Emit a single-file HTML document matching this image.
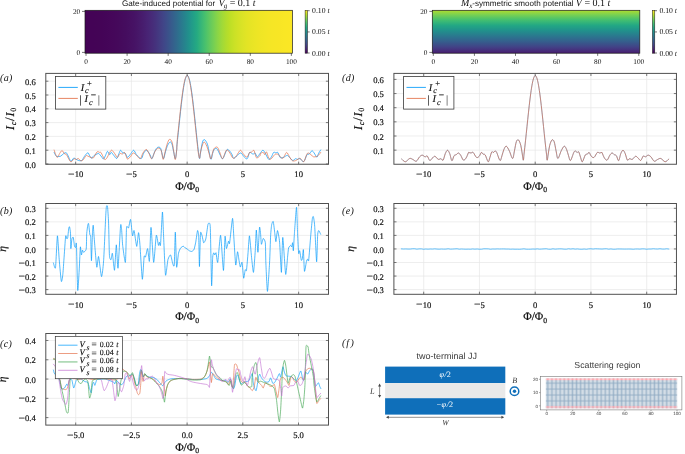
<!DOCTYPE html>
<html><head><meta charset="utf-8"><title>figure</title>
<style>html,body{margin:0;padding:0;background:#fff;}body{width:685px;height:454px;overflow:hidden;font-family:"Liberation Serif",serif;}svg{display:block;will-change:transform;}text{text-rendering:geometricPrecision;}</style>
</head><body>
<svg width="685" height="454" viewBox="0 0 685 454">
<rect width="685" height="454" fill="#fff"/>
<defs>
<linearGradient id="g1" x1="0" y1="0" x2="1" y2="0"><stop offset="0.000" stop-color="#440255"/><stop offset="0.020" stop-color="#440356"/><stop offset="0.040" stop-color="#440356"/><stop offset="0.060" stop-color="#440456"/><stop offset="0.080" stop-color="#440457"/><stop offset="0.100" stop-color="#440558"/><stop offset="0.120" stop-color="#450659"/><stop offset="0.140" stop-color="#45075a"/><stop offset="0.160" stop-color="#45095b"/><stop offset="0.180" stop-color="#450b5d"/><stop offset="0.200" stop-color="#450d5f"/><stop offset="0.220" stop-color="#461062"/><stop offset="0.240" stop-color="#461365"/><stop offset="0.260" stop-color="#471869"/><stop offset="0.280" stop-color="#471d6e"/><stop offset="0.300" stop-color="#482374"/><stop offset="0.320" stop-color="#472a78"/><stop offset="0.340" stop-color="#45327d"/><stop offset="0.360" stop-color="#433c82"/><stop offset="0.380" stop-color="#404688"/><stop offset="0.400" stop-color="#3b518a"/><stop offset="0.420" stop-color="#365d8c"/><stop offset="0.440" stop-color="#31698d"/><stop offset="0.460" stop-color="#2b768e"/><stop offset="0.480" stop-color="#26838d"/><stop offset="0.500" stop-color="#21918c"/><stop offset="0.520" stop-color="#229e88"/><stop offset="0.540" stop-color="#25aa82"/><stop offset="0.560" stop-color="#37b678"/><stop offset="0.580" stop-color="#49c16d"/><stop offset="0.600" stop-color="#60c860"/><stop offset="0.620" stop-color="#75cf54"/><stop offset="0.640" stop-color="#8bd546"/><stop offset="0.660" stop-color="#9fd939"/><stop offset="0.680" stop-color="#b0dc2e"/><stop offset="0.700" stop-color="#bedf26"/><stop offset="0.720" stop-color="#cae126"/><stop offset="0.740" stop-color="#d3e226"/><stop offset="0.760" stop-color="#dbe326"/><stop offset="0.780" stop-color="#e2e425"/><stop offset="0.800" stop-color="#e7e425"/><stop offset="0.820" stop-color="#ebe525"/><stop offset="0.840" stop-color="#efe525"/><stop offset="0.860" stop-color="#f1e625"/><stop offset="0.880" stop-color="#f4e625"/><stop offset="0.900" stop-color="#f6e625"/><stop offset="0.920" stop-color="#f7e625"/><stop offset="0.940" stop-color="#f8e625"/><stop offset="0.960" stop-color="#f9e725"/><stop offset="0.980" stop-color="#fae725"/><stop offset="1.000" stop-color="#fbe725"/></linearGradient>
<linearGradient id="g2" x1="0" y1="1" x2="0" y2="0"><stop offset="0.000" stop-color="#471d6e"/><stop offset="0.020" stop-color="#482374"/><stop offset="0.040" stop-color="#472877"/><stop offset="0.060" stop-color="#462d7a"/><stop offset="0.080" stop-color="#45327d"/><stop offset="0.100" stop-color="#443780"/><stop offset="0.120" stop-color="#433c83"/><stop offset="0.140" stop-color="#424186"/><stop offset="0.160" stop-color="#404687"/><stop offset="0.180" stop-color="#3e4a88"/><stop offset="0.200" stop-color="#3c4f89"/><stop offset="0.220" stop-color="#3a538a"/><stop offset="0.240" stop-color="#38578b"/><stop offset="0.260" stop-color="#365c8c"/><stop offset="0.280" stop-color="#35608d"/><stop offset="0.300" stop-color="#33648d"/><stop offset="0.320" stop-color="#31688d"/><stop offset="0.340" stop-color="#2f6c8e"/><stop offset="0.360" stop-color="#2e708e"/><stop offset="0.380" stop-color="#2c748e"/><stop offset="0.400" stop-color="#2a788e"/><stop offset="0.420" stop-color="#297c8e"/><stop offset="0.440" stop-color="#27808d"/><stop offset="0.460" stop-color="#26848d"/><stop offset="0.480" stop-color="#24888d"/><stop offset="0.500" stop-color="#238c8c"/><stop offset="0.520" stop-color="#21908c"/><stop offset="0.540" stop-color="#21948b"/><stop offset="0.560" stop-color="#21978a"/><stop offset="0.580" stop-color="#219b88"/><stop offset="0.600" stop-color="#229f87"/><stop offset="0.620" stop-color="#22a286"/><stop offset="0.640" stop-color="#22a685"/><stop offset="0.660" stop-color="#25aa82"/><stop offset="0.680" stop-color="#2aae7f"/><stop offset="0.700" stop-color="#30b17c"/><stop offset="0.720" stop-color="#35b579"/><stop offset="0.740" stop-color="#3ab976"/><stop offset="0.760" stop-color="#40bc72"/><stop offset="0.780" stop-color="#46c06f"/><stop offset="0.800" stop-color="#4fc36a"/><stop offset="0.820" stop-color="#57c565"/><stop offset="0.840" stop-color="#60c860"/><stop offset="0.860" stop-color="#69cb5b"/><stop offset="0.880" stop-color="#71ce56"/><stop offset="0.900" stop-color="#7ad151"/><stop offset="0.920" stop-color="#85d34a"/><stop offset="0.940" stop-color="#8fd543"/><stop offset="0.960" stop-color="#9ad83c"/><stop offset="0.980" stop-color="#a5da35"/><stop offset="1.000" stop-color="#b0dc2f"/></linearGradient>
<linearGradient id="cb" x1="0" y1="1" x2="0" y2="0"><stop offset="0.000" stop-color="#440154"/><stop offset="0.050" stop-color="#461264"/><stop offset="0.100" stop-color="#482475"/><stop offset="0.150" stop-color="#44347e"/><stop offset="0.200" stop-color="#414487"/><stop offset="0.250" stop-color="#3b528a"/><stop offset="0.300" stop-color="#355f8d"/><stop offset="0.350" stop-color="#306c8e"/><stop offset="0.400" stop-color="#2a788e"/><stop offset="0.450" stop-color="#26848d"/><stop offset="0.500" stop-color="#21918c"/><stop offset="0.550" stop-color="#229c88"/><stop offset="0.600" stop-color="#22a884"/><stop offset="0.650" stop-color="#33b47a"/><stop offset="0.700" stop-color="#44bf70"/><stop offset="0.750" stop-color="#5fc860"/><stop offset="0.800" stop-color="#7ad151"/><stop offset="0.850" stop-color="#9bd83c"/><stop offset="0.900" stop-color="#bddf26"/><stop offset="0.950" stop-color="#dde326"/><stop offset="1.000" stop-color="#fde725"/></linearGradient>
</defs>
<rect x="85.0" y="10.3" width="207.39999999999998" height="42.900000000000006" fill="url(#g1)" stroke="#1a1a1a" stroke-width="0.7"/>
<line x1="86.03" y1="53.2" x2="86.03" y2="55.900000000000006" stroke="#1a1a1a" stroke-width="0.6"/>
<text x="86.03" y="63.800000000000004" font-family="Liberation Serif, serif" font-size="7.3" text-anchor="middle" fill="#111">0</text>
<line x1="127.10" y1="53.2" x2="127.10" y2="55.900000000000006" stroke="#1a1a1a" stroke-width="0.6"/>
<text x="127.10" y="63.800000000000004" font-family="Liberation Serif, serif" font-size="7.3" text-anchor="middle" fill="#111">20</text>
<line x1="168.17" y1="53.2" x2="168.17" y2="55.900000000000006" stroke="#1a1a1a" stroke-width="0.6"/>
<text x="168.17" y="63.800000000000004" font-family="Liberation Serif, serif" font-size="7.3" text-anchor="middle" fill="#111">40</text>
<line x1="209.23" y1="53.2" x2="209.23" y2="55.900000000000006" stroke="#1a1a1a" stroke-width="0.6"/>
<text x="209.23" y="63.800000000000004" font-family="Liberation Serif, serif" font-size="7.3" text-anchor="middle" fill="#111">60</text>
<line x1="250.30" y1="53.2" x2="250.30" y2="55.900000000000006" stroke="#1a1a1a" stroke-width="0.6"/>
<text x="250.30" y="63.800000000000004" font-family="Liberation Serif, serif" font-size="7.3" text-anchor="middle" fill="#111">80</text>
<line x1="291.37" y1="53.2" x2="291.37" y2="55.900000000000006" stroke="#1a1a1a" stroke-width="0.6"/>
<text x="291.37" y="63.800000000000004" font-family="Liberation Serif, serif" font-size="7.3" text-anchor="middle" fill="#111">100</text>
<line x1="85.0" y1="11.4" x2="82.0" y2="11.4" stroke="#1a1a1a" stroke-width="0.6"/>
<text x="80.2" y="14.0" font-family="Liberation Serif, serif" font-size="7.3" text-anchor="end" fill="#111">20</text>
<line x1="85.0" y1="52.400000000000006" x2="82.0" y2="52.400000000000006" stroke="#1a1a1a" stroke-width="0.6"/>
<text x="80.2" y="55.00000000000001" font-family="Liberation Serif, serif" font-size="7.3" text-anchor="end" fill="#111">0</text>
<text x="188.8" y="6.3" font-family="Liberation Sans, sans-serif" font-size="8.1" text-anchor="middle" fill="#111">Gate-induced potential for <tspan font-family="Liberation Serif" font-style="italic" font-size="10" dx="1">V<tspan font-size="7" dy="1.8" dx="-0.8">g</tspan></tspan><tspan font-family="Liberation Serif" font-size="10" dy="-1.8"> = 0.1 <tspan font-style="italic">t</tspan></tspan></text>
<rect x="305.1" y="10.3" width="2.4" height="42.900000000000006" fill="url(#cb)" stroke="#1a1a1a" stroke-width="0.5"/>
<line x1="307.5" y1="10.700000000000001" x2="309.70000000000005" y2="10.700000000000001" stroke="#1a1a1a" stroke-width="0.6"/>
<text x="312.1" y="13.200000000000001" font-family="Liberation Serif, serif" font-size="7.7" fill="#111">0.10 <tspan font-style="italic">t</tspan></text>
<line x1="307.5" y1="31.95" x2="309.70000000000005" y2="31.95" stroke="#1a1a1a" stroke-width="0.6"/>
<text x="312.1" y="34.45" font-family="Liberation Serif, serif" font-size="7.7" fill="#111">0.05 <tspan font-style="italic">t</tspan></text>
<line x1="307.5" y1="53.0" x2="309.70000000000005" y2="53.0" stroke="#1a1a1a" stroke-width="0.6"/>
<text x="312.1" y="55.5" font-family="Liberation Serif, serif" font-size="7.7" fill="#111">0.00 <tspan font-style="italic">t</tspan></text>
<rect x="432.3" y="10.3" width="207.49999999999994" height="42.900000000000006" fill="url(#g2)" stroke="#1a1a1a" stroke-width="0.7"/>
<line x1="433.33" y1="53.2" x2="433.33" y2="55.900000000000006" stroke="#1a1a1a" stroke-width="0.6"/>
<text x="433.33" y="63.800000000000004" font-family="Liberation Serif, serif" font-size="7.3" text-anchor="middle" fill="#111">0</text>
<line x1="474.42" y1="53.2" x2="474.42" y2="55.900000000000006" stroke="#1a1a1a" stroke-width="0.6"/>
<text x="474.42" y="63.800000000000004" font-family="Liberation Serif, serif" font-size="7.3" text-anchor="middle" fill="#111">20</text>
<line x1="515.51" y1="53.2" x2="515.51" y2="55.900000000000006" stroke="#1a1a1a" stroke-width="0.6"/>
<text x="515.51" y="63.800000000000004" font-family="Liberation Serif, serif" font-size="7.3" text-anchor="middle" fill="#111">40</text>
<line x1="556.59" y1="53.2" x2="556.59" y2="55.900000000000006" stroke="#1a1a1a" stroke-width="0.6"/>
<text x="556.59" y="63.800000000000004" font-family="Liberation Serif, serif" font-size="7.3" text-anchor="middle" fill="#111">60</text>
<line x1="597.68" y1="53.2" x2="597.68" y2="55.900000000000006" stroke="#1a1a1a" stroke-width="0.6"/>
<text x="597.68" y="63.800000000000004" font-family="Liberation Serif, serif" font-size="7.3" text-anchor="middle" fill="#111">80</text>
<line x1="638.77" y1="53.2" x2="638.77" y2="55.900000000000006" stroke="#1a1a1a" stroke-width="0.6"/>
<text x="638.77" y="63.800000000000004" font-family="Liberation Serif, serif" font-size="7.3" text-anchor="middle" fill="#111">100</text>
<line x1="432.3" y1="11.4" x2="429.3" y2="11.4" stroke="#1a1a1a" stroke-width="0.6"/>
<text x="427.5" y="14.0" font-family="Liberation Serif, serif" font-size="7.3" text-anchor="end" fill="#111">20</text>
<line x1="432.3" y1="52.400000000000006" x2="429.3" y2="52.400000000000006" stroke="#1a1a1a" stroke-width="0.6"/>
<text x="427.5" y="55.00000000000001" font-family="Liberation Serif, serif" font-size="7.3" text-anchor="end" fill="#111">0</text>
<text x="535.6" y="6.3" font-family="Liberation Sans, sans-serif" font-size="8.1" text-anchor="middle" fill="#111"><tspan font-family="Liberation Serif" font-style="italic" font-size="10">M<tspan font-size="7" dy="1.8">x</tspan></tspan><tspan dy="-1.8">-symmetric smooth potential </tspan><tspan font-family="Liberation Serif" font-size="10"><tspan font-style="italic">V</tspan> = 0.1 <tspan font-style="italic">t</tspan></tspan></text>
<rect x="652.4" y="10.3" width="2.4" height="42.900000000000006" fill="url(#cb)" stroke="#1a1a1a" stroke-width="0.5"/>
<line x1="654.8" y1="10.700000000000001" x2="657.0" y2="10.700000000000001" stroke="#1a1a1a" stroke-width="0.6"/>
<text x="659.4" y="13.200000000000001" font-family="Liberation Serif, serif" font-size="7.7" fill="#111">0.10 <tspan font-style="italic">t</tspan></text>
<line x1="654.8" y1="31.95" x2="657.0" y2="31.95" stroke="#1a1a1a" stroke-width="0.6"/>
<text x="659.4" y="34.45" font-family="Liberation Serif, serif" font-size="7.7" fill="#111">0.05 <tspan font-style="italic">t</tspan></text>
<line x1="654.8" y1="53.0" x2="657.0" y2="53.0" stroke="#1a1a1a" stroke-width="0.6"/>
<text x="659.4" y="55.5" font-family="Liberation Serif, serif" font-size="7.7" fill="#111">0.00 <tspan font-style="italic">t</tspan></text>
<rect x="45.8" y="73.4" width="282.7" height="90.85" fill="#fff"/>
<line x1="75.65" y1="73.4" x2="75.65" y2="164.25" stroke="#e6e6e6" stroke-width="0.7"/>
<line x1="131.40" y1="73.4" x2="131.40" y2="164.25" stroke="#e6e6e6" stroke-width="0.7"/>
<line x1="187.15" y1="73.4" x2="187.15" y2="164.25" stroke="#e6e6e6" stroke-width="0.7"/>
<line x1="242.90" y1="73.4" x2="242.90" y2="164.25" stroke="#e6e6e6" stroke-width="0.7"/>
<line x1="298.65" y1="73.4" x2="298.65" y2="164.25" stroke="#e6e6e6" stroke-width="0.7"/>
<line x1="45.8" y1="164.00" x2="328.5" y2="164.00" stroke="#e6e6e6" stroke-width="0.7"/>
<line x1="45.8" y1="150.20" x2="328.5" y2="150.20" stroke="#e6e6e6" stroke-width="0.7"/>
<line x1="45.8" y1="136.40" x2="328.5" y2="136.40" stroke="#e6e6e6" stroke-width="0.7"/>
<line x1="45.8" y1="122.60" x2="328.5" y2="122.60" stroke="#e6e6e6" stroke-width="0.7"/>
<line x1="45.8" y1="108.80" x2="328.5" y2="108.80" stroke="#e6e6e6" stroke-width="0.7"/>
<line x1="45.8" y1="95.00" x2="328.5" y2="95.00" stroke="#e6e6e6" stroke-width="0.7"/>
<line x1="45.8" y1="81.20" x2="328.5" y2="81.20" stroke="#e6e6e6" stroke-width="0.7"/>
<path d="M54.16 152.45C54.34 152.81 54.85 154.00 55.26 154.64C55.66 155.27 55.71 156.00 56.57 156.28C57.43 156.55 59.22 156.73 60.40 156.28C61.59 155.82 62.72 154.12 63.69 153.54C64.65 152.96 65.48 152.41 66.20 152.77C66.93 153.14 67.30 154.33 68.07 155.73C68.83 157.14 69.89 160.79 70.80 161.21C71.72 161.63 72.72 158.61 73.54 158.25C74.36 157.88 74.91 158.65 75.73 159.02C76.55 159.38 77.46 160.20 78.47 160.44C79.47 160.68 80.75 161.13 81.75 160.44C82.76 159.75 83.49 157.56 84.49 156.28C85.49 155.00 86.92 152.87 87.78 152.77C88.63 152.68 89.00 154.82 89.64 155.73C90.28 156.64 90.91 158.25 91.61 158.25C92.30 158.25 92.70 156.52 93.80 155.73C94.89 154.95 97.17 153.72 98.18 153.54C99.18 153.36 99.18 154.00 99.82 154.64C100.46 155.27 101.37 156.64 102.01 157.37C102.65 158.10 103.01 159.47 103.65 159.02C104.29 158.56 105.20 155.91 105.84 154.64C106.48 153.36 106.85 151.35 107.48 151.35C108.12 151.35 109.04 154.45 109.67 154.64C110.31 154.82 110.59 152.26 111.32 152.45C112.05 152.63 113.14 154.73 114.05 155.73C114.97 156.73 115.97 158.83 116.79 158.47C117.61 158.10 118.34 154.91 118.98 153.54C119.62 152.17 119.98 150.35 120.62 150.26C121.26 150.16 122.10 152.54 122.81 152.99C123.53 153.45 124.34 152.59 124.93 152.99C125.52 153.40 125.89 154.67 126.35 155.40C126.81 156.13 126.90 157.68 127.66 157.37C128.43 157.06 129.95 154.73 130.95 153.54C131.95 152.35 132.77 150.07 133.69 150.26C134.60 150.44 135.33 153.30 136.42 154.64C137.52 155.97 139.34 157.70 140.26 158.25C141.17 158.80 141.35 158.71 141.90 157.92C142.45 157.14 142.81 154.82 143.54 153.54C144.27 152.26 145.37 150.35 146.28 150.26C147.19 150.16 148.29 151.99 149.02 152.99C149.75 154.00 150.17 155.33 150.66 156.28C151.15 157.23 151.42 159.14 151.97 158.69C152.52 158.23 153.34 155.04 153.94 153.54C154.55 152.04 154.95 150.75 155.59 149.71C156.22 148.67 156.95 147.57 157.78 147.30C158.60 147.03 159.78 146.93 160.51 148.07C161.24 149.20 161.64 152.32 162.15 154.09C162.67 155.86 163.03 159.05 163.58 158.69C164.13 158.32 164.76 154.12 165.44 151.90C166.11 149.67 166.84 146.97 167.63 145.33C168.41 143.69 169.42 142.23 170.15 142.04C170.88 141.86 171.43 142.59 172.01 144.23C172.59 145.88 173.10 149.49 173.65 151.90C174.20 154.31 174.78 159.05 175.29 158.69C175.80 158.32 176.47 151.76 176.72 149.71C176.97 147.66 176.66 148.07 176.80 146.38C176.94 144.69 177.30 141.87 177.55 139.56C177.80 137.26 178.05 134.89 178.30 132.52C178.55 130.16 178.80 127.76 179.05 125.38C179.30 123.00 179.55 120.61 179.80 118.27C180.05 115.92 180.30 113.58 180.55 111.32C180.80 109.05 181.05 106.81 181.30 104.66C181.55 102.52 181.80 100.42 182.05 98.44C182.30 96.45 182.55 94.54 182.80 92.76C183.05 90.98 183.30 89.29 183.55 87.74C183.80 86.20 184.05 84.77 184.30 83.49C184.55 82.22 184.80 81.07 185.05 80.09C185.30 79.11 185.55 78.28 185.80 77.61C186.05 76.95 186.30 76.44 186.55 76.11C186.80 75.77 187.05 75.60 187.30 75.60C187.55 75.60 187.80 75.77 188.05 76.11C188.30 76.44 188.55 76.95 188.80 77.61C189.05 78.28 189.30 79.11 189.55 80.09C189.80 81.07 190.05 82.22 190.30 83.49C190.55 84.77 190.80 86.20 191.05 87.74C191.30 89.29 191.55 90.98 191.80 92.76C192.05 94.54 192.30 96.45 192.55 98.44C192.80 100.42 193.05 102.52 193.30 104.66C193.55 106.81 193.80 109.05 194.05 111.32C194.30 113.58 194.55 115.92 194.80 118.27C195.05 120.61 195.30 123.00 195.55 125.38C195.80 127.76 196.05 130.16 196.30 132.52C196.55 134.89 196.80 137.26 197.05 139.56C197.30 141.87 197.55 144.16 197.80 146.38C198.05 148.59 198.25 150.81 198.55 152.85C198.85 154.89 199.21 158.94 199.60 158.60C199.99 158.26 200.39 153.56 200.88 150.80C201.36 148.04 201.92 143.91 202.52 142.04C203.12 140.18 203.67 139.27 204.49 139.64C205.31 140.00 206.64 142.01 207.45 144.23C208.25 146.46 208.71 150.48 209.31 152.99C209.91 155.51 210.51 159.25 211.06 159.34C211.61 159.44 212.10 155.15 212.59 153.54C213.08 151.94 213.41 150.57 214.02 149.71C214.62 148.85 215.57 148.30 216.21 148.39C216.84 148.49 217.17 149.12 217.85 150.26C218.52 151.39 219.44 153.78 220.26 155.18C221.08 156.59 221.81 159.33 222.78 158.69C223.74 158.05 225.20 152.88 226.06 151.35C226.92 149.82 227.01 149.12 227.92 149.49C228.83 149.85 230.57 152.08 231.53 153.54C232.50 155.00 232.72 157.98 233.72 158.25C234.73 158.52 236.37 156.06 237.56 155.18C238.74 154.31 239.75 152.72 240.84 152.99C241.94 153.27 243.07 155.88 244.13 156.83C245.18 157.77 246.28 159.42 247.19 158.69C248.10 157.96 248.83 153.30 249.60 152.45C250.37 151.59 251.15 153.27 251.79 153.54C252.43 153.81 252.89 154.18 253.43 154.09C253.98 154.00 254.44 152.54 255.08 152.99C255.71 153.45 256.44 156.73 257.27 156.83C258.09 156.92 259.07 154.64 260.00 153.54C260.94 152.45 261.98 150.26 262.88 150.26C263.78 150.26 264.43 152.03 265.40 153.54C266.37 155.06 267.68 158.80 268.69 159.34C269.69 159.89 270.60 157.98 271.42 156.83C272.25 155.68 272.88 153.12 273.61 152.45C274.34 151.77 275.11 152.77 275.80 152.77C276.50 152.77 277.19 151.95 277.77 152.45C278.36 152.94 278.81 154.82 279.31 155.73C279.80 156.64 280.04 157.65 280.73 157.92C281.42 158.19 282.37 157.79 283.47 157.37C284.56 156.95 286.30 155.40 287.30 155.40C288.30 155.40 288.58 156.53 289.49 157.37C290.40 158.21 291.77 160.22 292.78 160.44C293.78 160.66 294.78 158.87 295.51 158.69C296.24 158.50 296.42 159.34 297.15 159.34C297.88 159.34 298.80 158.32 299.89 158.69C300.99 159.05 302.54 162.21 303.72 161.53C304.91 160.86 306.10 155.88 307.01 154.64C307.92 153.40 308.38 154.73 309.20 154.09C310.02 153.45 311.12 150.99 311.94 150.80C312.76 150.62 313.31 151.94 314.13 152.99C314.95 154.05 316.13 157.06 316.86 157.15C317.59 157.25 317.87 154.75 318.51 153.54C319.14 152.34 320.33 150.53 320.70 149.93" fill="none" stroke="#009afa" stroke-width="0.7" stroke-linejoin="round" stroke-linecap="round"/>
<path d="M54.16 150.04C54.42 150.80 55.15 153.41 55.69 154.64C56.24 155.86 56.79 157.56 57.45 157.37C58.10 157.19 58.87 154.67 59.64 153.54C60.40 152.41 61.28 150.58 62.04 150.58C62.81 150.58 63.50 152.87 64.23 153.54C64.96 154.22 65.69 153.78 66.42 154.64C67.15 155.49 67.88 157.50 68.61 158.69C69.34 159.87 70.07 161.52 70.80 161.75C71.53 161.99 72.35 160.62 72.99 160.11C73.63 159.60 74.09 158.78 74.64 158.69C75.18 158.60 75.68 159.60 76.28 159.56C76.88 159.53 77.52 158.29 78.25 158.47C78.98 158.65 79.89 160.38 80.66 160.66C81.42 160.93 81.94 160.93 82.85 160.11C83.76 159.29 85.31 156.41 86.13 155.73C86.95 155.06 86.77 155.69 87.78 156.06C88.78 156.42 91.15 157.70 92.15 157.92C93.16 158.14 92.98 158.38 93.80 157.37C94.62 156.37 96.08 152.72 97.08 151.90C98.09 151.08 99.18 152.35 99.82 152.45C100.46 152.54 100.40 151.81 100.91 152.45C101.43 153.08 102.25 155.09 102.89 156.28C103.52 157.46 104.07 159.29 104.75 159.56C105.42 159.84 106.21 158.92 106.94 157.92C107.67 156.92 108.40 154.82 109.13 153.54C109.86 152.26 110.59 150.53 111.32 150.26C112.05 149.98 112.78 151.08 113.51 151.90C114.24 152.72 115.06 154.27 115.70 155.18C116.33 156.10 116.61 157.65 117.34 157.37C118.07 157.10 119.25 154.09 120.08 153.54C120.90 152.99 121.64 154.27 122.27 154.09C122.89 153.91 123.39 152.63 123.83 152.45C124.28 152.26 124.53 152.35 124.93 152.99C125.33 153.63 125.82 155.27 126.24 156.28C126.66 157.28 126.75 158.92 127.45 159.02C128.14 159.11 129.45 157.83 130.40 156.83C131.35 155.82 132.14 153.27 133.14 152.99C134.14 152.72 135.24 154.23 136.42 155.18C137.61 156.13 139.16 159.05 140.26 158.69C141.35 158.32 141.99 154.53 142.99 152.99C144.00 151.46 145.27 149.40 146.28 149.49C147.28 149.58 148.10 152.01 149.02 153.54C149.93 155.07 150.75 159.05 151.75 158.69C152.76 158.32 153.94 153.12 155.04 151.35C156.13 149.58 157.32 148.25 158.32 148.07C159.33 147.88 160.42 149.07 161.06 150.26C161.70 151.44 161.79 153.67 162.15 155.18C162.52 156.70 162.76 159.89 163.25 159.34C163.74 158.80 164.47 154.42 165.11 151.90C165.75 149.38 166.35 146.33 167.08 144.23C167.81 142.14 168.67 139.67 169.49 139.31C170.31 138.94 171.32 140.13 172.01 142.04C172.70 143.96 173.10 147.88 173.65 150.80C174.20 153.72 174.78 159.75 175.29 159.56C175.80 159.38 176.38 153.04 176.72 149.71C177.05 146.38 177.08 142.43 177.30 139.56C177.52 136.70 177.80 134.89 178.05 132.52C178.30 130.16 178.55 127.76 178.80 125.38C179.05 123.00 179.30 120.61 179.55 118.27C179.80 115.92 180.05 113.58 180.30 111.32C180.55 109.05 180.80 106.81 181.05 104.66C181.30 102.52 181.55 100.42 181.80 98.44C182.05 96.45 182.30 94.54 182.55 92.76C182.80 90.98 183.05 89.29 183.30 87.74C183.55 86.20 183.80 84.77 184.05 83.49C184.30 82.22 184.55 81.07 184.80 80.09C185.05 79.11 185.30 78.28 185.55 77.61C185.80 76.95 186.05 76.44 186.30 76.11C186.55 75.77 186.80 75.60 187.05 75.60C187.30 75.60 187.55 75.77 187.80 76.11C188.05 76.44 188.30 76.95 188.55 77.61C188.80 78.28 189.05 79.11 189.30 80.09C189.55 81.07 189.80 82.22 190.05 83.49C190.30 84.77 190.55 86.20 190.80 87.74C191.05 89.29 191.30 90.98 191.55 92.76C191.80 94.54 192.05 96.45 192.30 98.44C192.55 100.42 192.80 102.52 193.05 104.66C193.30 106.81 193.55 109.05 193.80 111.32C194.05 113.58 194.30 115.92 194.55 118.27C194.80 120.61 195.05 123.00 195.30 125.38C195.55 127.76 195.80 130.16 196.05 132.52C196.30 134.89 196.55 137.26 196.80 139.56C197.05 141.87 197.30 144.16 197.55 146.38C197.80 148.59 197.96 150.86 198.30 152.85C198.64 154.84 199.26 158.28 199.60 158.30C199.94 158.32 199.93 154.97 200.33 152.99C200.72 151.01 201.33 148.25 201.97 146.42C202.61 144.60 203.34 142.04 204.16 142.04C204.98 142.04 206.08 144.51 206.90 146.42C207.72 148.34 208.45 151.44 209.09 153.54C209.73 155.64 210.18 159.02 210.73 159.02C211.28 159.02 211.88 155.18 212.37 153.54C212.87 151.90 213.14 150.20 213.69 149.16C214.23 148.12 215.00 147.57 215.66 147.30C216.32 147.03 216.90 146.57 217.63 147.52C218.36 148.47 219.23 151.13 220.04 152.99C220.84 154.85 221.53 158.87 222.45 158.69C223.36 158.50 224.73 153.36 225.51 151.90C226.30 150.44 226.42 149.75 227.15 149.93C227.88 150.11 228.89 151.61 229.89 152.99C230.90 154.38 232.08 157.79 233.18 158.25C234.27 158.71 235.28 157.06 236.46 155.73C237.65 154.40 239.20 150.62 240.29 150.26C241.39 149.89 241.94 152.39 243.03 153.54C244.13 154.69 245.77 157.34 246.86 157.15C247.96 156.97 248.87 153.23 249.60 152.45C250.33 151.66 250.55 152.81 251.24 152.45C251.94 152.08 253.09 149.89 253.76 150.26C254.44 150.62 254.80 153.36 255.29 154.64C255.79 155.91 255.93 157.74 256.72 157.92C257.50 158.10 259.38 156.46 260.00 155.73C260.63 155.00 259.94 154.09 260.47 153.54C261.01 152.99 262.48 152.26 263.21 152.45C263.94 152.63 264.31 154.73 264.85 154.64C265.40 154.54 265.86 151.35 266.50 151.90C267.14 152.45 267.96 156.73 268.69 157.92C269.42 159.11 269.87 159.56 270.88 159.02C271.88 158.47 273.71 155.46 274.71 154.64C275.71 153.81 276.26 154.09 276.90 154.09C277.54 154.09 277.90 154.09 278.54 154.64C279.18 155.18 280.00 156.77 280.73 157.37C281.46 157.98 282.28 158.52 282.92 158.25C283.56 157.98 283.92 156.70 284.56 155.73C285.20 154.76 285.93 152.26 286.75 152.45C287.57 152.63 288.58 155.46 289.49 156.83C290.40 158.19 291.22 160.02 292.23 160.66C293.23 161.30 294.51 160.93 295.51 160.66C296.52 160.38 297.43 159.38 298.25 159.02C299.07 158.65 299.53 158.01 300.44 158.47C301.35 158.92 302.72 162.30 303.72 161.75C304.73 161.21 305.73 156.64 306.46 155.18C307.19 153.72 307.37 153.08 308.10 152.99C308.83 152.90 309.93 154.00 310.84 154.64C311.75 155.27 312.67 156.52 313.58 156.83C314.49 157.14 315.49 156.77 316.32 156.50C317.14 156.22 317.78 155.86 318.51 155.18C319.24 154.51 320.33 152.90 320.70 152.45" fill="none" stroke="#e36f47" stroke-width="0.7" stroke-linejoin="round" stroke-linecap="round"/>
<line x1="75.65" y1="164.25" x2="75.65" y2="161.65" stroke="#444" stroke-width="0.7"/>
<line x1="75.65" y1="73.4" x2="75.65" y2="76.0" stroke="#444" stroke-width="0.7"/>
<text x="75.65" y="177.45" font-family="Liberation Serif, serif" font-size="8.6" text-anchor="middle" fill="#111" stroke="#111" stroke-width="0.18"><tspan font-size="11.5" dy="0.55">−</tspan><tspan dy="-0.55" font-size="1"> </tspan>10</text>
<line x1="131.40" y1="164.25" x2="131.40" y2="161.65" stroke="#444" stroke-width="0.7"/>
<line x1="131.40" y1="73.4" x2="131.40" y2="76.0" stroke="#444" stroke-width="0.7"/>
<text x="131.40" y="177.45" font-family="Liberation Serif, serif" font-size="8.6" text-anchor="middle" fill="#111" stroke="#111" stroke-width="0.18"><tspan font-size="11.5" dy="0.55">−</tspan><tspan dy="-0.55" font-size="1"> </tspan>5</text>
<line x1="187.15" y1="164.25" x2="187.15" y2="161.65" stroke="#444" stroke-width="0.7"/>
<line x1="187.15" y1="73.4" x2="187.15" y2="76.0" stroke="#444" stroke-width="0.7"/>
<text x="187.15" y="177.45" font-family="Liberation Serif, serif" font-size="8.6" text-anchor="middle" fill="#111" stroke="#111" stroke-width="0.18">0</text>
<line x1="242.90" y1="164.25" x2="242.90" y2="161.65" stroke="#444" stroke-width="0.7"/>
<line x1="242.90" y1="73.4" x2="242.90" y2="76.0" stroke="#444" stroke-width="0.7"/>
<text x="242.90" y="177.45" font-family="Liberation Serif, serif" font-size="8.6" text-anchor="middle" fill="#111" stroke="#111" stroke-width="0.18">5</text>
<line x1="298.65" y1="164.25" x2="298.65" y2="161.65" stroke="#444" stroke-width="0.7"/>
<line x1="298.65" y1="73.4" x2="298.65" y2="76.0" stroke="#444" stroke-width="0.7"/>
<text x="298.65" y="177.45" font-family="Liberation Serif, serif" font-size="8.6" text-anchor="middle" fill="#111" stroke="#111" stroke-width="0.18">10</text>
<line x1="45.8" y1="164.00" x2="48.4" y2="164.00" stroke="#444" stroke-width="0.7"/>
<line x1="328.5" y1="164.00" x2="325.9" y2="164.00" stroke="#444" stroke-width="0.7"/>
<text x="35.8" y="167.60" font-family="Liberation Serif, serif" font-size="8.6" text-anchor="end" fill="#111" stroke="#111" stroke-width="0.18">0.0</text>
<line x1="45.8" y1="150.20" x2="48.4" y2="150.20" stroke="#444" stroke-width="0.7"/>
<line x1="328.5" y1="150.20" x2="325.9" y2="150.20" stroke="#444" stroke-width="0.7"/>
<text x="35.8" y="153.80" font-family="Liberation Serif, serif" font-size="8.6" text-anchor="end" fill="#111" stroke="#111" stroke-width="0.18">0.1</text>
<line x1="45.8" y1="136.40" x2="48.4" y2="136.40" stroke="#444" stroke-width="0.7"/>
<line x1="328.5" y1="136.40" x2="325.9" y2="136.40" stroke="#444" stroke-width="0.7"/>
<text x="35.8" y="140.00" font-family="Liberation Serif, serif" font-size="8.6" text-anchor="end" fill="#111" stroke="#111" stroke-width="0.18">0.2</text>
<line x1="45.8" y1="122.60" x2="48.4" y2="122.60" stroke="#444" stroke-width="0.7"/>
<line x1="328.5" y1="122.60" x2="325.9" y2="122.60" stroke="#444" stroke-width="0.7"/>
<text x="35.8" y="126.20" font-family="Liberation Serif, serif" font-size="8.6" text-anchor="end" fill="#111" stroke="#111" stroke-width="0.18">0.3</text>
<line x1="45.8" y1="108.80" x2="48.4" y2="108.80" stroke="#444" stroke-width="0.7"/>
<line x1="328.5" y1="108.80" x2="325.9" y2="108.80" stroke="#444" stroke-width="0.7"/>
<text x="35.8" y="112.40" font-family="Liberation Serif, serif" font-size="8.6" text-anchor="end" fill="#111" stroke="#111" stroke-width="0.18">0.4</text>
<line x1="45.8" y1="95.00" x2="48.4" y2="95.00" stroke="#444" stroke-width="0.7"/>
<line x1="328.5" y1="95.00" x2="325.9" y2="95.00" stroke="#444" stroke-width="0.7"/>
<text x="35.8" y="98.60" font-family="Liberation Serif, serif" font-size="8.6" text-anchor="end" fill="#111" stroke="#111" stroke-width="0.18">0.5</text>
<line x1="45.8" y1="81.20" x2="48.4" y2="81.20" stroke="#444" stroke-width="0.7"/>
<line x1="328.5" y1="81.20" x2="325.9" y2="81.20" stroke="#444" stroke-width="0.7"/>
<text x="35.8" y="84.80" font-family="Liberation Serif, serif" font-size="8.6" text-anchor="end" fill="#111" stroke="#111" stroke-width="0.18">0.6</text>
<rect x="45.8" y="73.4" width="282.7" height="90.85" fill="none" stroke="#505050" stroke-width="1"/>
<text x="187.15" y="190.25" font-family="Liberation Serif, serif" font-size="11.6" text-anchor="middle" fill="#111" stroke="#111" stroke-width="0.22">Φ/Φ<tspan font-size="7.7" dy="2.2">0</tspan></text>
<text transform="translate(14,118.825) rotate(-90)" font-family="Liberation Serif, serif" font-size="12" text-anchor="middle" fill="#111" stroke="#111" stroke-width="0.22"><tspan font-style="italic">I<tspan font-size="8" dy="2.4" dx="0.6">c</tspan></tspan><tspan dy="-2.4" dx="0.8" font-size="13">/</tspan><tspan font-style="italic" dx="0.8">I</tspan><tspan font-size="8" dy="2.4" dx="0.8">0</tspan></text>
<rect x="55.5" y="76.5" width="50.3" height="32.6" fill="#fff" stroke="#3a3a3a" stroke-width="0.8"/>
<line x1="58.4" y1="87.4" x2="77.8" y2="87.4" stroke="#009afa" stroke-width="0.85"/>
<line x1="58.4" y1="98.4" x2="77.8" y2="98.4" stroke="#e36f47" stroke-width="0.85"/>
<text y="90.8" font-family="Liberation Serif, serif" font-size="10.5" font-style="italic" fill="#111" stroke="#111" stroke-width="0.15"><tspan x="80.7">I</tspan><tspan x="85.1" font-size="8.2" dy="2.4">c</tspan><tspan x="87.1" font-size="8.5" dy="-7.6" font-style="normal">+</tspan></text>
<text y="102.1" font-family="Liberation Serif, serif" font-size="10.5" fill="#111" stroke="#111" stroke-width="0.15"><tspan x="79.3" font-size="11" dy="0.6">|</tspan><tspan x="84.5" dy="-0.6" font-style="italic">I</tspan><tspan x="88.9" font-size="8.2" dy="2.4" font-style="italic">c</tspan><tspan x="90.7" font-size="9.5" dy="-7">−</tspan><tspan x="97.8" font-size="11" dy="5.2" fill="#666" stroke="#666">|</tspan></text>
<text x="0" y="81" font-family="Liberation Serif, serif" font-size="10" font-style="italic" fill="#111" letter-spacing="0.35">(a)</text>
<rect x="393.9" y="73.4" width="282.55000000000007" height="90.85" fill="#fff"/>
<line x1="423.70" y1="73.4" x2="423.70" y2="164.25" stroke="#e6e6e6" stroke-width="0.7"/>
<line x1="479.45" y1="73.4" x2="479.45" y2="164.25" stroke="#e6e6e6" stroke-width="0.7"/>
<line x1="535.20" y1="73.4" x2="535.20" y2="164.25" stroke="#e6e6e6" stroke-width="0.7"/>
<line x1="590.95" y1="73.4" x2="590.95" y2="164.25" stroke="#e6e6e6" stroke-width="0.7"/>
<line x1="646.70" y1="73.4" x2="646.70" y2="164.25" stroke="#e6e6e6" stroke-width="0.7"/>
<line x1="393.9" y1="150.15" x2="676.45" y2="150.15" stroke="#e6e6e6" stroke-width="0.7"/>
<line x1="393.9" y1="136.00" x2="676.45" y2="136.00" stroke="#e6e6e6" stroke-width="0.7"/>
<line x1="393.9" y1="121.85" x2="676.45" y2="121.85" stroke="#e6e6e6" stroke-width="0.7"/>
<line x1="393.9" y1="107.70" x2="676.45" y2="107.70" stroke="#e6e6e6" stroke-width="0.7"/>
<line x1="393.9" y1="93.55" x2="676.45" y2="93.55" stroke="#e6e6e6" stroke-width="0.7"/>
<line x1="393.9" y1="79.40" x2="676.45" y2="79.40" stroke="#e6e6e6" stroke-width="0.7"/>
<path d="M401.74 159.02C402.34 159.47 404.02 161.84 405.35 161.75C406.68 161.66 408.45 158.83 409.73 158.47C411.01 158.10 411.92 159.11 413.02 159.56C414.11 160.02 415.21 161.66 416.30 161.21C417.40 160.75 418.58 157.83 419.59 156.83C420.59 155.82 421.41 155.18 422.32 155.18C423.24 155.18 424.24 156.68 425.06 156.83C425.88 156.97 426.47 155.46 427.25 156.06C428.03 156.66 428.95 160.07 429.77 160.44C430.59 160.80 431.32 158.94 432.18 158.25C433.04 157.56 433.91 156.10 434.91 156.28C435.92 156.46 437.20 158.94 438.20 159.34C439.20 159.75 440.12 158.56 440.94 158.69C441.76 158.81 442.40 160.97 443.13 160.11C443.86 159.25 444.59 155.18 445.32 153.54C446.05 151.90 446.78 150.26 447.51 150.26C448.24 150.26 448.97 151.81 449.70 153.54C450.43 155.27 451.16 160.29 451.89 160.66C452.62 161.02 453.35 156.73 454.08 155.73C454.81 154.73 455.54 155.09 456.27 154.64C457.00 154.18 457.73 152.90 458.46 152.99C459.19 153.08 459.82 154.00 460.65 155.18C461.47 156.37 462.47 159.65 463.38 160.11C464.30 160.57 465.30 159.11 466.12 157.92C466.94 156.73 467.87 153.91 468.31 152.99C468.75 152.08 468.34 152.45 468.78 152.45C469.23 152.45 470.24 152.99 470.97 152.99C471.70 152.99 472.25 151.72 473.16 152.45C474.07 153.18 475.44 156.73 476.45 157.37C477.45 158.01 478.36 157.10 479.18 156.28C480.01 155.46 480.74 152.81 481.37 152.45C482.01 152.08 482.38 153.67 483.02 154.09C483.65 154.51 484.35 153.69 485.21 154.96C486.06 156.24 487.38 161.35 488.16 161.75C488.95 162.15 489.31 159.02 489.91 157.37C490.52 155.73 491.19 152.72 491.78 151.90C492.36 151.08 492.87 152.59 493.42 152.45C493.97 152.30 494.51 151.02 495.06 151.02C495.61 151.02 495.88 150.88 496.70 152.45C497.52 154.02 499.11 159.89 499.99 160.44C500.86 160.99 501.32 157.52 501.96 155.73C502.60 153.94 503.11 151.30 503.82 149.71C504.53 148.12 505.32 146.02 506.23 146.20C507.14 146.39 508.24 148.76 509.29 150.80C510.35 152.85 511.72 158.47 512.58 158.47C513.44 158.47 513.80 153.63 514.44 150.80C515.08 147.98 515.72 143.29 516.41 141.50C517.10 139.71 517.87 139.43 518.60 140.07C519.33 140.71 520.21 143.18 520.79 145.33C521.38 147.48 521.69 150.52 522.11 152.99C522.52 155.47 522.98 160.00 523.30 160.20C523.62 160.40 523.76 156.30 524.00 154.22C524.24 152.14 524.50 149.94 524.75 147.70C525.00 145.47 525.25 143.15 525.50 140.82C525.75 138.48 526.00 136.09 526.25 133.69C526.50 131.30 526.75 128.86 527.00 126.45C527.25 124.04 527.50 121.60 527.75 119.22C528.00 116.84 528.25 114.46 528.50 112.15C528.75 109.84 529.00 107.56 529.25 105.37C529.50 103.19 529.75 101.05 530.00 99.03C530.25 97.00 530.50 95.05 530.75 93.23C531.00 91.41 531.25 89.69 531.50 88.11C531.75 86.54 532.00 85.07 532.25 83.77C532.50 82.47 532.75 81.30 533.00 80.30C533.25 79.29 533.50 78.44 533.75 77.76C534.00 77.08 534.25 76.56 534.50 76.22C534.75 75.87 535.00 75.70 535.25 75.70C535.50 75.70 535.75 75.87 536.00 76.22C536.25 76.56 536.50 77.08 536.75 77.76C537.00 78.44 537.25 79.29 537.50 80.30C537.75 81.30 538.00 82.47 538.25 83.77C538.50 85.07 538.75 86.54 539.00 88.11C539.25 89.69 539.50 91.41 539.75 93.23C540.00 95.05 540.25 97.00 540.50 99.03C540.75 101.05 541.00 103.19 541.25 105.37C541.50 107.56 541.75 109.84 542.00 112.15C542.25 114.46 542.50 116.84 542.75 119.22C543.00 121.60 543.25 124.04 543.50 126.45C543.75 128.86 544.00 131.30 544.25 133.69C544.50 136.09 544.75 138.48 545.00 140.82C545.25 143.15 545.50 145.47 545.75 147.70C546.00 149.94 546.26 152.14 546.50 154.22C546.74 156.30 546.88 160.40 547.20 160.20C547.52 160.00 547.98 155.47 548.39 152.99C548.81 150.52 549.12 147.48 549.71 145.33C550.29 143.18 551.17 140.71 551.90 140.07C552.63 139.43 553.40 139.71 554.09 141.50C554.78 143.29 555.42 147.98 556.06 150.80C556.70 153.63 557.06 158.47 557.92 158.47C558.78 158.47 560.15 152.85 561.21 150.80C562.26 148.76 563.36 146.39 564.27 146.20C565.18 146.02 565.97 148.12 566.68 149.71C567.39 151.30 567.90 153.94 568.54 155.73C569.18 157.52 569.64 160.99 570.51 160.44C571.39 159.89 572.98 154.02 573.80 152.45C574.62 150.88 574.89 151.02 575.44 151.02C575.99 151.02 576.53 152.30 577.08 152.45C577.63 152.59 578.14 151.08 578.72 151.90C579.31 152.72 579.98 155.73 580.59 157.37C581.19 159.02 581.55 162.15 582.34 161.75C583.12 161.35 584.44 156.24 585.29 154.96C586.15 153.69 586.85 154.51 587.48 154.09C588.12 153.67 588.49 152.08 589.13 152.45C589.76 152.81 590.49 155.46 591.32 156.28C592.14 157.10 593.05 158.01 594.05 157.37C595.06 156.73 596.43 153.18 597.34 152.45C598.25 151.72 598.80 152.99 599.53 152.99C600.26 152.99 601.27 152.45 601.72 152.45C602.16 152.45 601.75 152.08 602.19 152.99C602.63 153.91 603.56 156.73 604.38 157.92C605.20 159.11 606.20 160.57 607.12 160.11C608.03 159.65 609.03 156.37 609.85 155.18C610.68 154.00 611.31 153.08 612.04 152.99C612.77 152.90 613.50 154.18 614.23 154.64C614.96 155.09 615.69 154.73 616.42 155.73C617.15 156.73 617.88 161.02 618.61 160.66C619.34 160.29 620.07 155.27 620.80 153.54C621.53 151.81 622.26 150.26 622.99 150.26C623.72 150.26 624.45 151.90 625.18 153.54C625.91 155.18 626.64 159.25 627.37 160.11C628.10 160.97 628.74 158.81 629.56 158.69C630.38 158.56 631.30 159.75 632.30 159.34C633.30 158.94 634.58 156.46 635.59 156.28C636.59 156.10 637.46 157.56 638.32 158.25C639.18 158.94 639.91 160.80 640.73 160.44C641.55 160.07 642.47 156.66 643.25 156.06C644.03 155.46 644.62 156.97 645.44 156.83C646.26 156.68 647.26 155.18 648.18 155.18C649.09 155.18 649.91 155.82 650.91 156.83C651.92 157.83 653.10 160.75 654.20 161.21C655.29 161.66 656.39 160.02 657.48 159.56C658.58 159.11 659.49 158.10 660.77 158.47C662.05 158.83 663.82 161.66 665.15 161.75C666.48 161.84 668.16 159.47 668.76 159.02" fill="none" stroke="#009afa" stroke-width="0.45" stroke-linejoin="round" stroke-linecap="round"/>
<path d="M401.74 159.02C402.34 159.47 404.02 161.84 405.35 161.75C406.68 161.66 408.45 158.83 409.73 158.47C411.01 158.10 411.92 159.11 413.02 159.56C414.11 160.02 415.21 161.66 416.30 161.21C417.40 160.75 418.58 157.83 419.59 156.83C420.59 155.82 421.41 155.18 422.32 155.18C423.24 155.18 424.24 156.68 425.06 156.83C425.88 156.97 426.47 155.46 427.25 156.06C428.03 156.66 428.95 160.07 429.77 160.44C430.59 160.80 431.32 158.94 432.18 158.25C433.04 157.56 433.91 156.10 434.91 156.28C435.92 156.46 437.20 158.94 438.20 159.34C439.20 159.75 440.12 158.56 440.94 158.69C441.76 158.81 442.40 160.97 443.13 160.11C443.86 159.25 444.59 155.18 445.32 153.54C446.05 151.90 446.78 150.26 447.51 150.26C448.24 150.26 448.97 151.81 449.70 153.54C450.43 155.27 451.16 160.29 451.89 160.66C452.62 161.02 453.35 156.73 454.08 155.73C454.81 154.73 455.54 155.09 456.27 154.64C457.00 154.18 457.73 152.90 458.46 152.99C459.19 153.08 459.82 154.00 460.65 155.18C461.47 156.37 462.47 159.65 463.38 160.11C464.30 160.57 465.30 159.11 466.12 157.92C466.94 156.73 467.87 153.91 468.31 152.99C468.75 152.08 468.34 152.45 468.78 152.45C469.23 152.45 470.24 152.99 470.97 152.99C471.70 152.99 472.25 151.72 473.16 152.45C474.07 153.18 475.44 156.73 476.45 157.37C477.45 158.01 478.36 157.10 479.18 156.28C480.01 155.46 480.74 152.81 481.37 152.45C482.01 152.08 482.38 153.67 483.02 154.09C483.65 154.51 484.35 153.69 485.21 154.96C486.06 156.24 487.38 161.35 488.16 161.75C488.95 162.15 489.31 159.02 489.91 157.37C490.52 155.73 491.19 152.72 491.78 151.90C492.36 151.08 492.87 152.59 493.42 152.45C493.97 152.30 494.51 151.02 495.06 151.02C495.61 151.02 495.88 150.88 496.70 152.45C497.52 154.02 499.11 159.89 499.99 160.44C500.86 160.99 501.32 157.52 501.96 155.73C502.60 153.94 503.11 151.30 503.82 149.71C504.53 148.12 505.32 146.02 506.23 146.20C507.14 146.39 508.24 148.76 509.29 150.80C510.35 152.85 511.72 158.47 512.58 158.47C513.44 158.47 513.80 153.63 514.44 150.80C515.08 147.98 515.72 143.29 516.41 141.50C517.10 139.71 517.87 139.43 518.60 140.07C519.33 140.71 520.21 143.18 520.79 145.33C521.38 147.48 521.69 150.52 522.11 152.99C522.52 155.47 522.98 160.00 523.30 160.20C523.62 160.40 523.76 156.30 524.00 154.22C524.24 152.14 524.50 149.94 524.75 147.70C525.00 145.47 525.25 143.15 525.50 140.82C525.75 138.48 526.00 136.09 526.25 133.69C526.50 131.30 526.75 128.86 527.00 126.45C527.25 124.04 527.50 121.60 527.75 119.22C528.00 116.84 528.25 114.46 528.50 112.15C528.75 109.84 529.00 107.56 529.25 105.37C529.50 103.19 529.75 101.05 530.00 99.03C530.25 97.00 530.50 95.05 530.75 93.23C531.00 91.41 531.25 89.69 531.50 88.11C531.75 86.54 532.00 85.07 532.25 83.77C532.50 82.47 532.75 81.30 533.00 80.30C533.25 79.29 533.50 78.44 533.75 77.76C534.00 77.08 534.25 76.56 534.50 76.22C534.75 75.87 535.00 75.70 535.25 75.70C535.50 75.70 535.75 75.87 536.00 76.22C536.25 76.56 536.50 77.08 536.75 77.76C537.00 78.44 537.25 79.29 537.50 80.30C537.75 81.30 538.00 82.47 538.25 83.77C538.50 85.07 538.75 86.54 539.00 88.11C539.25 89.69 539.50 91.41 539.75 93.23C540.00 95.05 540.25 97.00 540.50 99.03C540.75 101.05 541.00 103.19 541.25 105.37C541.50 107.56 541.75 109.84 542.00 112.15C542.25 114.46 542.50 116.84 542.75 119.22C543.00 121.60 543.25 124.04 543.50 126.45C543.75 128.86 544.00 131.30 544.25 133.69C544.50 136.09 544.75 138.48 545.00 140.82C545.25 143.15 545.50 145.47 545.75 147.70C546.00 149.94 546.26 152.14 546.50 154.22C546.74 156.30 546.88 160.40 547.20 160.20C547.52 160.00 547.98 155.47 548.39 152.99C548.81 150.52 549.12 147.48 549.71 145.33C550.29 143.18 551.17 140.71 551.90 140.07C552.63 139.43 553.40 139.71 554.09 141.50C554.78 143.29 555.42 147.98 556.06 150.80C556.70 153.63 557.06 158.47 557.92 158.47C558.78 158.47 560.15 152.85 561.21 150.80C562.26 148.76 563.36 146.39 564.27 146.20C565.18 146.02 565.97 148.12 566.68 149.71C567.39 151.30 567.90 153.94 568.54 155.73C569.18 157.52 569.64 160.99 570.51 160.44C571.39 159.89 572.98 154.02 573.80 152.45C574.62 150.88 574.89 151.02 575.44 151.02C575.99 151.02 576.53 152.30 577.08 152.45C577.63 152.59 578.14 151.08 578.72 151.90C579.31 152.72 579.98 155.73 580.59 157.37C581.19 159.02 581.55 162.15 582.34 161.75C583.12 161.35 584.44 156.24 585.29 154.96C586.15 153.69 586.85 154.51 587.48 154.09C588.12 153.67 588.49 152.08 589.13 152.45C589.76 152.81 590.49 155.46 591.32 156.28C592.14 157.10 593.05 158.01 594.05 157.37C595.06 156.73 596.43 153.18 597.34 152.45C598.25 151.72 598.80 152.99 599.53 152.99C600.26 152.99 601.27 152.45 601.72 152.45C602.16 152.45 601.75 152.08 602.19 152.99C602.63 153.91 603.56 156.73 604.38 157.92C605.20 159.11 606.20 160.57 607.12 160.11C608.03 159.65 609.03 156.37 609.85 155.18C610.68 154.00 611.31 153.08 612.04 152.99C612.77 152.90 613.50 154.18 614.23 154.64C614.96 155.09 615.69 154.73 616.42 155.73C617.15 156.73 617.88 161.02 618.61 160.66C619.34 160.29 620.07 155.27 620.80 153.54C621.53 151.81 622.26 150.26 622.99 150.26C623.72 150.26 624.45 151.90 625.18 153.54C625.91 155.18 626.64 159.25 627.37 160.11C628.10 160.97 628.74 158.81 629.56 158.69C630.38 158.56 631.30 159.75 632.30 159.34C633.30 158.94 634.58 156.46 635.59 156.28C636.59 156.10 637.46 157.56 638.32 158.25C639.18 158.94 639.91 160.80 640.73 160.44C641.55 160.07 642.47 156.66 643.25 156.06C644.03 155.46 644.62 156.97 645.44 156.83C646.26 156.68 647.26 155.18 648.18 155.18C649.09 155.18 649.91 155.82 650.91 156.83C651.92 157.83 653.10 160.75 654.20 161.21C655.29 161.66 656.39 160.02 657.48 159.56C658.58 159.11 659.49 158.10 660.77 158.47C662.05 158.83 663.82 161.66 665.15 161.75C666.48 161.84 668.16 159.47 668.76 159.02" fill="none" stroke="#d96a4a" stroke-width="0.72" stroke-linejoin="round" stroke-linecap="round"/>
<line x1="423.70" y1="164.25" x2="423.70" y2="161.65" stroke="#444" stroke-width="0.7"/>
<line x1="423.70" y1="73.4" x2="423.70" y2="76.0" stroke="#444" stroke-width="0.7"/>
<text x="423.70" y="177.45" font-family="Liberation Serif, serif" font-size="8.6" text-anchor="middle" fill="#111" stroke="#111" stroke-width="0.18"><tspan font-size="11.5" dy="0.55">−</tspan><tspan dy="-0.55" font-size="1"> </tspan>10</text>
<line x1="479.45" y1="164.25" x2="479.45" y2="161.65" stroke="#444" stroke-width="0.7"/>
<line x1="479.45" y1="73.4" x2="479.45" y2="76.0" stroke="#444" stroke-width="0.7"/>
<text x="479.45" y="177.45" font-family="Liberation Serif, serif" font-size="8.6" text-anchor="middle" fill="#111" stroke="#111" stroke-width="0.18"><tspan font-size="11.5" dy="0.55">−</tspan><tspan dy="-0.55" font-size="1"> </tspan>5</text>
<line x1="535.20" y1="164.25" x2="535.20" y2="161.65" stroke="#444" stroke-width="0.7"/>
<line x1="535.20" y1="73.4" x2="535.20" y2="76.0" stroke="#444" stroke-width="0.7"/>
<text x="535.20" y="177.45" font-family="Liberation Serif, serif" font-size="8.6" text-anchor="middle" fill="#111" stroke="#111" stroke-width="0.18">0</text>
<line x1="590.95" y1="164.25" x2="590.95" y2="161.65" stroke="#444" stroke-width="0.7"/>
<line x1="590.95" y1="73.4" x2="590.95" y2="76.0" stroke="#444" stroke-width="0.7"/>
<text x="590.95" y="177.45" font-family="Liberation Serif, serif" font-size="8.6" text-anchor="middle" fill="#111" stroke="#111" stroke-width="0.18">5</text>
<line x1="646.70" y1="164.25" x2="646.70" y2="161.65" stroke="#444" stroke-width="0.7"/>
<line x1="646.70" y1="73.4" x2="646.70" y2="76.0" stroke="#444" stroke-width="0.7"/>
<text x="646.70" y="177.45" font-family="Liberation Serif, serif" font-size="8.6" text-anchor="middle" fill="#111" stroke="#111" stroke-width="0.18">10</text>
<line x1="393.9" y1="150.15" x2="396.5" y2="150.15" stroke="#444" stroke-width="0.7"/>
<line x1="676.45" y1="150.15" x2="673.85" y2="150.15" stroke="#444" stroke-width="0.7"/>
<text x="383.9" y="153.75" font-family="Liberation Serif, serif" font-size="8.6" text-anchor="end" fill="#111" stroke="#111" stroke-width="0.18">0.1</text>
<line x1="393.9" y1="136.00" x2="396.5" y2="136.00" stroke="#444" stroke-width="0.7"/>
<line x1="676.45" y1="136.00" x2="673.85" y2="136.00" stroke="#444" stroke-width="0.7"/>
<text x="383.9" y="139.60" font-family="Liberation Serif, serif" font-size="8.6" text-anchor="end" fill="#111" stroke="#111" stroke-width="0.18">0.2</text>
<line x1="393.9" y1="121.85" x2="396.5" y2="121.85" stroke="#444" stroke-width="0.7"/>
<line x1="676.45" y1="121.85" x2="673.85" y2="121.85" stroke="#444" stroke-width="0.7"/>
<text x="383.9" y="125.45" font-family="Liberation Serif, serif" font-size="8.6" text-anchor="end" fill="#111" stroke="#111" stroke-width="0.18">0.3</text>
<line x1="393.9" y1="107.70" x2="396.5" y2="107.70" stroke="#444" stroke-width="0.7"/>
<line x1="676.45" y1="107.70" x2="673.85" y2="107.70" stroke="#444" stroke-width="0.7"/>
<text x="383.9" y="111.30" font-family="Liberation Serif, serif" font-size="8.6" text-anchor="end" fill="#111" stroke="#111" stroke-width="0.18">0.4</text>
<line x1="393.9" y1="93.55" x2="396.5" y2="93.55" stroke="#444" stroke-width="0.7"/>
<line x1="676.45" y1="93.55" x2="673.85" y2="93.55" stroke="#444" stroke-width="0.7"/>
<text x="383.9" y="97.15" font-family="Liberation Serif, serif" font-size="8.6" text-anchor="end" fill="#111" stroke="#111" stroke-width="0.18">0.5</text>
<line x1="393.9" y1="79.40" x2="396.5" y2="79.40" stroke="#444" stroke-width="0.7"/>
<line x1="676.45" y1="79.40" x2="673.85" y2="79.40" stroke="#444" stroke-width="0.7"/>
<text x="383.9" y="83.00" font-family="Liberation Serif, serif" font-size="8.6" text-anchor="end" fill="#111" stroke="#111" stroke-width="0.18">0.6</text>
<rect x="393.9" y="73.4" width="282.55000000000007" height="90.85" fill="none" stroke="#505050" stroke-width="1"/>
<text x="535.175" y="190.25" font-family="Liberation Serif, serif" font-size="11.6" text-anchor="middle" fill="#111" stroke="#111" stroke-width="0.22">Φ/Φ<tspan font-size="7.7" dy="2.2">0</tspan></text>
<text transform="translate(362,118.825) rotate(-90)" font-family="Liberation Serif, serif" font-size="12" text-anchor="middle" fill="#111" stroke="#111" stroke-width="0.22"><tspan font-style="italic">I<tspan font-size="8" dy="2.4" dx="0.6">c</tspan></tspan><tspan dy="-2.4" dx="0.8" font-size="13">/</tspan><tspan font-style="italic" dx="0.8">I</tspan><tspan font-size="8" dy="2.4" dx="0.8">0</tspan></text>
<rect x="403.6" y="76.5" width="50.3" height="32.6" fill="#fff" stroke="#3a3a3a" stroke-width="0.8"/>
<line x1="406.5" y1="87.4" x2="425.90000000000003" y2="87.4" stroke="#009afa" stroke-width="0.85"/>
<line x1="406.5" y1="98.4" x2="425.90000000000003" y2="98.4" stroke="#e36f47" stroke-width="0.85"/>
<text y="90.8" font-family="Liberation Serif, serif" font-size="10.5" font-style="italic" fill="#111" stroke="#111" stroke-width="0.15"><tspan x="428.8">I</tspan><tspan x="433.20000000000005" font-size="8.2" dy="2.4">c</tspan><tspan x="435.20000000000005" font-size="8.5" dy="-7.6" font-style="normal">+</tspan></text>
<text y="102.1" font-family="Liberation Serif, serif" font-size="10.5" fill="#111" stroke="#111" stroke-width="0.15"><tspan x="427.40000000000003" font-size="11" dy="0.6">|</tspan><tspan x="432.6" dy="-0.6" font-style="italic">I</tspan><tspan x="437.0" font-size="8.2" dy="2.4" font-style="italic">c</tspan><tspan x="438.8" font-size="9.5" dy="-7">−</tspan><tspan x="445.90000000000003" font-size="11" dy="5.2" fill="#666" stroke="#666">|</tspan></text>
<text x="342" y="81" font-family="Liberation Serif, serif" font-size="10" font-style="italic" fill="#111" letter-spacing="0.35">(d)</text>
<rect x="45.8" y="203.5" width="282.7" height="90.80000000000001" fill="#fff"/>
<line x1="75.65" y1="203.5" x2="75.65" y2="294.3" stroke="#e6e6e6" stroke-width="0.7"/>
<line x1="131.40" y1="203.5" x2="131.40" y2="294.3" stroke="#e6e6e6" stroke-width="0.7"/>
<line x1="187.15" y1="203.5" x2="187.15" y2="294.3" stroke="#e6e6e6" stroke-width="0.7"/>
<line x1="242.90" y1="203.5" x2="242.90" y2="294.3" stroke="#e6e6e6" stroke-width="0.7"/>
<line x1="298.65" y1="203.5" x2="298.65" y2="294.3" stroke="#e6e6e6" stroke-width="0.7"/>
<line x1="45.8" y1="289.60" x2="328.5" y2="289.60" stroke="#e6e6e6" stroke-width="0.7"/>
<line x1="45.8" y1="276.05" x2="328.5" y2="276.05" stroke="#e6e6e6" stroke-width="0.7"/>
<line x1="45.8" y1="262.50" x2="328.5" y2="262.50" stroke="#e6e6e6" stroke-width="0.7"/>
<line x1="45.8" y1="248.95" x2="328.5" y2="248.95" stroke="#e6e6e6" stroke-width="0.7"/>
<line x1="45.8" y1="235.40" x2="328.5" y2="235.40" stroke="#e6e6e6" stroke-width="0.7"/>
<line x1="45.8" y1="221.85" x2="328.5" y2="221.85" stroke="#e6e6e6" stroke-width="0.7"/>
<line x1="45.8" y1="208.30" x2="328.5" y2="208.30" stroke="#e6e6e6" stroke-width="0.7"/>
<path d="M53.40 262.86C53.61 263.34 55.11 270.32 55.52 267.62C55.92 264.91 57.05 236.63 57.42 235.83C57.79 235.04 58.83 255.13 59.22 259.69C59.61 264.24 60.96 279.99 61.33 281.36C61.70 282.74 62.49 277.88 62.92 273.43C63.34 268.99 65.19 240.39 65.56 236.89C65.93 233.40 66.41 238.37 66.62 238.48C66.83 238.58 67.46 238.95 67.67 237.95C67.89 236.94 68.54 229.54 68.73 228.43C68.92 227.32 69.40 226.32 69.58 226.85C69.76 227.38 70.40 231.55 70.53 233.72C70.66 235.89 70.71 248.06 70.85 248.59C70.98 249.11 71.66 240.12 71.90 239.01C72.15 237.89 73.01 236.68 73.28 237.42C73.54 238.16 74.31 245.40 74.55 246.41C74.78 247.41 75.41 247.68 75.60 247.46C75.79 247.25 76.24 240.00 76.45 244.29C76.66 248.58 77.43 287.96 77.72 290.35C78.00 292.73 79.04 272.49 79.31 268.15C79.57 263.80 80.15 248.26 80.36 246.94C80.57 245.61 81.21 254.61 81.42 254.93C81.63 255.25 82.27 250.44 82.48 250.17C82.69 249.91 83.16 252.39 83.53 252.29C83.90 252.18 85.86 250.97 86.18 249.11C86.49 247.26 86.55 236.10 86.71 233.72C86.86 231.33 87.57 226.27 87.76 225.26C87.95 224.26 88.40 222.72 88.61 223.67C88.82 224.63 89.67 233.45 89.88 234.78C90.09 236.10 90.57 234.29 90.72 236.89C90.88 239.49 91.28 261.27 91.46 260.74C91.64 260.22 92.34 235.15 92.52 231.60C92.70 228.06 93.10 224.73 93.26 225.26C93.42 225.79 93.76 232.71 94.11 236.89C94.46 241.07 96.31 265.13 96.75 267.09C97.19 269.05 98.07 255.56 98.55 256.52C99.02 257.47 101.00 276.18 101.51 276.60C102.02 277.03 103.20 266.83 103.62 260.74C104.05 254.66 105.45 221.20 105.74 215.74C106.02 210.29 106.30 207.13 106.48 206.23C106.66 205.33 107.32 205.07 107.54 206.76C107.75 208.45 108.40 218.28 108.59 223.15C108.78 228.02 109.20 251.80 109.44 255.46C109.68 259.11 110.73 259.90 111.02 259.69C111.32 259.48 112.05 252.29 112.40 253.34C112.75 254.40 114.12 271.11 114.51 270.26C114.91 269.41 115.98 245.03 116.33 244.82C116.68 244.61 117.59 270.05 118.02 268.15C118.44 266.24 120.20 229.66 120.56 225.79C120.91 221.92 121.40 227.53 121.61 229.49C121.82 231.45 122.29 242.07 122.67 245.35C123.05 248.63 125.04 264.02 125.42 262.33C125.80 260.64 126.26 231.98 126.48 228.43C126.69 224.88 127.32 226.90 127.53 226.85C127.74 226.79 128.28 228.64 128.59 227.90C128.90 227.16 130.21 218.65 130.60 219.45C130.99 220.24 132.15 234.72 132.50 235.83C132.85 236.94 133.67 229.49 134.09 230.55C134.51 231.60 136.29 246.20 136.73 246.41C137.18 246.62 138.21 232.87 138.53 232.66C138.85 232.45 139.52 239.63 139.90 244.29C140.28 248.95 141.91 278.03 142.34 279.25C142.76 280.47 143.82 258.74 144.13 256.52C144.45 254.30 145.16 257.84 145.51 257.04C145.86 256.25 147.23 248.16 147.62 248.59C148.01 249.01 149.08 263.39 149.42 261.27C149.76 259.15 150.58 227.27 151.01 227.38C151.43 227.48 153.12 261.54 153.65 262.33C154.18 263.12 155.82 237.00 156.29 235.31C156.77 233.61 158.09 244.66 158.41 245.35C158.72 246.04 159.25 242.23 159.46 242.18C159.68 242.12 160.23 247.83 160.52 244.82C160.82 241.81 162.13 213.15 162.42 212.04C162.72 210.93 163.18 227.42 163.48 233.72C163.79 240.02 165.05 272.42 165.49 275.02C165.93 277.62 167.42 261.70 167.92 259.69C168.43 257.68 170.09 254.56 170.57 254.93C171.04 255.30 172.31 262.38 172.68 263.39C173.05 264.39 174.00 268.10 174.27 264.97C174.53 261.85 175.09 231.92 175.32 232.13C175.56 232.34 176.28 264.97 176.59 267.09C176.91 269.21 178.09 255.25 178.50 253.34C178.90 251.43 180.13 248.71 180.61 247.99C181.09 247.28 182.85 246.25 183.25 246.20C183.66 246.14 184.24 247.17 184.64 247.46C185.05 247.76 186.81 248.78 187.29 249.11C187.76 249.45 188.98 250.57 189.40 250.81C189.82 251.04 191.15 251.46 191.52 251.44C191.89 251.42 192.84 250.83 193.10 250.59C193.37 250.36 193.89 249.96 194.16 249.11C194.42 248.27 195.41 244.03 195.74 242.18C196.08 240.32 197.25 231.08 197.54 230.55C197.84 230.02 198.52 233.29 198.71 236.89C198.90 240.49 199.27 266.93 199.45 266.56C199.63 266.19 200.24 236.26 200.50 233.19C200.77 230.12 201.77 234.88 202.09 235.83C202.41 236.79 203.30 242.39 203.67 242.71C204.04 243.02 205.37 240.80 205.79 239.01C206.21 237.21 207.56 226.32 207.90 224.73C208.25 223.15 209.04 222.78 209.28 223.15C209.52 223.52 210.10 222.19 210.34 228.43C210.57 234.68 211.37 282.68 211.60 285.59C211.84 288.51 212.45 260.85 212.66 257.57C212.87 254.30 213.51 253.08 213.72 252.82C213.93 252.55 214.54 254.93 214.78 254.93C215.01 254.93 215.75 252.08 216.05 252.82C216.34 253.56 217.28 264.08 217.74 262.33C218.19 260.58 220.02 234.49 220.59 235.31C221.16 236.12 223.00 270.37 223.45 270.47C223.89 270.58 224.74 238.56 225.03 236.36C225.33 234.17 226.06 248.05 226.41 248.52C226.76 249.00 228.20 241.65 228.52 241.12C228.84 240.59 229.18 245.51 229.58 243.23C229.98 240.96 232.12 219.02 232.54 218.39C232.96 217.75 233.49 232.23 233.81 236.89C234.13 241.55 235.34 263.49 235.71 264.97C236.08 266.46 237.17 252.18 237.51 251.76C237.85 251.33 238.81 259.21 239.09 260.74C239.38 262.28 240.07 266.93 240.36 267.09C240.66 267.25 241.73 261.22 242.05 262.33C242.38 263.44 243.32 277.45 243.64 278.19C243.96 278.93 244.94 270.53 245.23 269.73C245.51 268.94 246.21 272.01 246.50 270.26C246.78 268.52 247.79 255.73 248.08 252.29C248.38 248.84 249.11 235.31 249.46 235.83C249.81 236.36 251.18 253.92 251.59 257.57C251.99 261.23 253.12 273.12 253.49 272.38C253.86 271.64 255.00 254.41 255.29 250.17C255.57 245.94 256.08 229.81 256.34 230.02C256.61 230.23 257.61 252.55 257.93 252.29C258.25 252.02 259.25 229.23 259.52 227.38C259.78 225.52 260.38 232.03 260.57 233.72C260.76 235.41 261.15 243.82 261.42 244.29C261.68 244.77 262.83 238.64 263.22 238.48C263.61 238.32 265.07 240.27 265.33 242.71C265.60 245.14 265.65 257.99 265.86 262.86C266.07 267.73 267.08 291.41 267.45 291.41C267.82 291.41 269.24 268.42 269.56 262.86C269.88 257.30 270.41 239.65 270.62 235.83C270.83 232.02 271.41 226.16 271.67 224.73C271.94 223.30 272.94 220.66 273.26 221.56C273.58 222.46 274.58 231.71 274.85 233.72C275.11 235.73 275.64 241.97 275.90 241.65C276.17 241.33 277.12 230.49 277.49 230.55C277.86 230.60 279.21 237.99 279.60 242.18C280.00 246.36 281.08 272.85 281.40 272.38C281.72 271.90 282.35 237.23 282.78 237.42C283.20 237.61 285.16 272.26 285.63 274.28C286.11 276.29 287.24 260.20 287.53 257.57C287.83 254.94 288.27 249.22 288.59 247.99C288.91 246.77 290.39 245.46 290.71 245.35C291.02 245.24 291.57 247.20 291.76 246.94C291.95 246.67 292.45 242.33 292.61 242.71C292.77 243.08 293.17 251.60 293.35 250.70C293.53 249.80 294.09 238.06 294.41 233.72C294.72 229.38 296.20 207.29 296.52 207.29C296.84 207.29 297.37 229.11 297.58 233.72C297.79 238.32 298.42 251.65 298.64 253.34C298.85 255.04 299.43 250.01 299.69 250.70C299.96 251.39 301.02 259.42 301.28 260.22C301.54 261.01 302.13 259.69 302.34 258.63C302.55 257.57 303.18 248.37 303.39 249.64C303.61 250.91 304.13 270.21 304.45 271.32C304.77 272.43 306.25 261.96 306.57 260.74C306.88 259.53 307.41 259.21 307.62 259.16C307.83 259.11 308.36 262.65 308.68 260.22C309.00 257.78 310.43 238.96 310.80 234.78C311.17 230.59 312.12 220.19 312.38 218.39C312.65 216.59 313.21 216.01 313.44 216.80C313.67 217.60 314.39 221.82 314.71 226.32C315.02 230.82 316.31 260.96 316.61 261.80C316.91 262.65 317.46 237.90 317.67 234.78C317.88 231.65 318.43 230.60 318.72 230.55C319.02 230.49 320.44 233.88 320.63 234.25" fill="none" stroke="#009afa" stroke-width="0.68" stroke-linejoin="round" stroke-linecap="round"/>
<line x1="75.65" y1="294.3" x2="75.65" y2="291.7" stroke="#444" stroke-width="0.7"/>
<line x1="75.65" y1="203.5" x2="75.65" y2="206.1" stroke="#444" stroke-width="0.7"/>
<text x="75.65" y="307.5" font-family="Liberation Serif, serif" font-size="8.6" text-anchor="middle" fill="#111" stroke="#111" stroke-width="0.18"><tspan font-size="11.5" dy="0.55">−</tspan><tspan dy="-0.55" font-size="1"> </tspan>10</text>
<line x1="131.40" y1="294.3" x2="131.40" y2="291.7" stroke="#444" stroke-width="0.7"/>
<line x1="131.40" y1="203.5" x2="131.40" y2="206.1" stroke="#444" stroke-width="0.7"/>
<text x="131.40" y="307.5" font-family="Liberation Serif, serif" font-size="8.6" text-anchor="middle" fill="#111" stroke="#111" stroke-width="0.18"><tspan font-size="11.5" dy="0.55">−</tspan><tspan dy="-0.55" font-size="1"> </tspan>5</text>
<line x1="187.15" y1="294.3" x2="187.15" y2="291.7" stroke="#444" stroke-width="0.7"/>
<line x1="187.15" y1="203.5" x2="187.15" y2="206.1" stroke="#444" stroke-width="0.7"/>
<text x="187.15" y="307.5" font-family="Liberation Serif, serif" font-size="8.6" text-anchor="middle" fill="#111" stroke="#111" stroke-width="0.18">0</text>
<line x1="242.90" y1="294.3" x2="242.90" y2="291.7" stroke="#444" stroke-width="0.7"/>
<line x1="242.90" y1="203.5" x2="242.90" y2="206.1" stroke="#444" stroke-width="0.7"/>
<text x="242.90" y="307.5" font-family="Liberation Serif, serif" font-size="8.6" text-anchor="middle" fill="#111" stroke="#111" stroke-width="0.18">5</text>
<line x1="298.65" y1="294.3" x2="298.65" y2="291.7" stroke="#444" stroke-width="0.7"/>
<line x1="298.65" y1="203.5" x2="298.65" y2="206.1" stroke="#444" stroke-width="0.7"/>
<text x="298.65" y="307.5" font-family="Liberation Serif, serif" font-size="8.6" text-anchor="middle" fill="#111" stroke="#111" stroke-width="0.18">10</text>
<line x1="45.8" y1="289.60" x2="48.4" y2="289.60" stroke="#444" stroke-width="0.7"/>
<line x1="328.5" y1="289.60" x2="325.9" y2="289.60" stroke="#444" stroke-width="0.7"/>
<text x="35.8" y="293.20" font-family="Liberation Serif, serif" font-size="8.6" text-anchor="end" fill="#111" stroke="#111" stroke-width="0.18"><tspan font-size="11.5" dy="0.55">−</tspan><tspan dy="-0.55" font-size="1"> </tspan>0.3</text>
<line x1="45.8" y1="276.05" x2="48.4" y2="276.05" stroke="#444" stroke-width="0.7"/>
<line x1="328.5" y1="276.05" x2="325.9" y2="276.05" stroke="#444" stroke-width="0.7"/>
<text x="35.8" y="279.65" font-family="Liberation Serif, serif" font-size="8.6" text-anchor="end" fill="#111" stroke="#111" stroke-width="0.18"><tspan font-size="11.5" dy="0.55">−</tspan><tspan dy="-0.55" font-size="1"> </tspan>0.2</text>
<line x1="45.8" y1="262.50" x2="48.4" y2="262.50" stroke="#444" stroke-width="0.7"/>
<line x1="328.5" y1="262.50" x2="325.9" y2="262.50" stroke="#444" stroke-width="0.7"/>
<text x="35.8" y="266.10" font-family="Liberation Serif, serif" font-size="8.6" text-anchor="end" fill="#111" stroke="#111" stroke-width="0.18"><tspan font-size="11.5" dy="0.55">−</tspan><tspan dy="-0.55" font-size="1"> </tspan>0.1</text>
<line x1="45.8" y1="248.95" x2="48.4" y2="248.95" stroke="#444" stroke-width="0.7"/>
<line x1="328.5" y1="248.95" x2="325.9" y2="248.95" stroke="#444" stroke-width="0.7"/>
<text x="35.8" y="252.55" font-family="Liberation Serif, serif" font-size="8.6" text-anchor="end" fill="#111" stroke="#111" stroke-width="0.18">0.0</text>
<line x1="45.8" y1="235.40" x2="48.4" y2="235.40" stroke="#444" stroke-width="0.7"/>
<line x1="328.5" y1="235.40" x2="325.9" y2="235.40" stroke="#444" stroke-width="0.7"/>
<text x="35.8" y="239.00" font-family="Liberation Serif, serif" font-size="8.6" text-anchor="end" fill="#111" stroke="#111" stroke-width="0.18">0.1</text>
<line x1="45.8" y1="221.85" x2="48.4" y2="221.85" stroke="#444" stroke-width="0.7"/>
<line x1="328.5" y1="221.85" x2="325.9" y2="221.85" stroke="#444" stroke-width="0.7"/>
<text x="35.8" y="225.45" font-family="Liberation Serif, serif" font-size="8.6" text-anchor="end" fill="#111" stroke="#111" stroke-width="0.18">0.2</text>
<line x1="45.8" y1="208.30" x2="48.4" y2="208.30" stroke="#444" stroke-width="0.7"/>
<line x1="328.5" y1="208.30" x2="325.9" y2="208.30" stroke="#444" stroke-width="0.7"/>
<text x="35.8" y="211.90" font-family="Liberation Serif, serif" font-size="8.6" text-anchor="end" fill="#111" stroke="#111" stroke-width="0.18">0.3</text>
<rect x="45.8" y="203.5" width="282.7" height="90.80000000000001" fill="none" stroke="#505050" stroke-width="1"/>
<text x="187.15" y="320.3" font-family="Liberation Serif, serif" font-size="11.6" text-anchor="middle" fill="#111" stroke="#111" stroke-width="0.22">Φ/Φ<tspan font-size="7.7" dy="2.2">0</tspan></text>
<text transform="translate(5.9,248.9) rotate(-90)" font-family="Liberation Serif, serif" font-size="12" text-anchor="middle" fill="#111" stroke="#111" stroke-width="0.22"><tspan font-style="italic" font-size="11.5">η</tspan></text>
<text x="0" y="214" font-family="Liberation Serif, serif" font-size="10" font-style="italic" fill="#111" letter-spacing="0.35">(b)</text>
<rect x="393.9" y="203.5" width="282.55000000000007" height="90.80000000000001" fill="#fff"/>
<line x1="423.70" y1="203.5" x2="423.70" y2="294.3" stroke="#e6e6e6" stroke-width="0.7"/>
<line x1="479.45" y1="203.5" x2="479.45" y2="294.3" stroke="#e6e6e6" stroke-width="0.7"/>
<line x1="535.20" y1="203.5" x2="535.20" y2="294.3" stroke="#e6e6e6" stroke-width="0.7"/>
<line x1="590.95" y1="203.5" x2="590.95" y2="294.3" stroke="#e6e6e6" stroke-width="0.7"/>
<line x1="646.70" y1="203.5" x2="646.70" y2="294.3" stroke="#e6e6e6" stroke-width="0.7"/>
<line x1="393.9" y1="289.60" x2="676.45" y2="289.60" stroke="#e6e6e6" stroke-width="0.7"/>
<line x1="393.9" y1="276.05" x2="676.45" y2="276.05" stroke="#e6e6e6" stroke-width="0.7"/>
<line x1="393.9" y1="262.50" x2="676.45" y2="262.50" stroke="#e6e6e6" stroke-width="0.7"/>
<line x1="393.9" y1="248.95" x2="676.45" y2="248.95" stroke="#e6e6e6" stroke-width="0.7"/>
<line x1="393.9" y1="235.40" x2="676.45" y2="235.40" stroke="#e6e6e6" stroke-width="0.7"/>
<line x1="393.9" y1="221.85" x2="676.45" y2="221.85" stroke="#e6e6e6" stroke-width="0.7"/>
<line x1="393.9" y1="208.30" x2="676.45" y2="208.30" stroke="#e6e6e6" stroke-width="0.7"/>
<polyline points="401.30,248.87 403.53,249.02 405.76,248.93 407.99,249.05 410.22,249.06 412.45,248.78 414.68,248.76 416.91,249.17 419.14,248.88 421.37,248.87 423.60,249.25 425.83,248.99 428.06,249.17 430.29,248.99 432.52,249.07 434.75,248.83 436.98,249.07 439.21,249.18 441.44,249.01 443.67,249.12 445.90,249.09 448.13,248.78 450.36,249.13 452.59,249.05 454.82,248.90 457.05,248.77 459.28,249.18 461.51,248.99 463.74,249.11 465.97,249.19 468.20,249.11 470.43,249.21 472.66,248.95 474.89,249.15 477.12,248.97 479.35,249.22 481.58,249.19 483.81,248.80 486.04,248.82 488.27,248.86 490.50,249.23 492.73,248.97 494.96,249.06 497.19,248.90 499.42,249.00 501.65,248.94 503.88,248.93 506.11,249.04 508.34,249.04 510.57,249.20 512.80,249.09 515.03,249.21 517.26,249.18 519.49,249.25 521.72,249.09 523.95,248.83 526.18,249.18 528.41,249.23 530.64,249.20 532.87,249.03 535.10,249.11 537.33,248.86 539.56,249.17 541.79,249.04 544.02,248.89 546.25,248.78 548.48,249.18 550.71,249.24 552.94,248.79 555.17,249.15 557.40,248.96 559.63,248.83 561.86,248.90 564.09,249.13 566.32,249.19 568.55,248.77 570.78,249.06 573.01,248.77 575.24,249.11 577.47,248.92 579.70,249.19 581.93,249.24 584.16,249.00 586.39,249.25 588.62,248.90 590.85,248.79 593.08,249.05 595.31,248.77 597.54,248.85 599.77,248.95 602.00,249.06 604.23,248.83 606.46,248.77 608.69,249.18 610.92,248.91 613.15,249.23 615.38,249.20 617.61,248.94 619.84,248.98 622.07,249.01 624.30,249.07 626.53,249.05 628.76,249.03 630.99,249.06 633.22,249.22 635.45,249.00 637.68,248.97 639.91,249.11 642.14,248.87 644.37,248.90 646.60,249.24 648.83,249.01 651.06,249.02 653.29,248.76 655.52,248.96 657.75,249.04 659.98,248.76 662.21,249.06 664.44,249.07 666.67,248.78 668.90,249.06" fill="none" stroke="#009afa" stroke-width="0.6" stroke-linejoin="round" stroke-linecap="round"/>
<line x1="423.70" y1="294.3" x2="423.70" y2="291.7" stroke="#444" stroke-width="0.7"/>
<line x1="423.70" y1="203.5" x2="423.70" y2="206.1" stroke="#444" stroke-width="0.7"/>
<text x="423.70" y="307.5" font-family="Liberation Serif, serif" font-size="8.6" text-anchor="middle" fill="#111" stroke="#111" stroke-width="0.18"><tspan font-size="11.5" dy="0.55">−</tspan><tspan dy="-0.55" font-size="1"> </tspan>10</text>
<line x1="479.45" y1="294.3" x2="479.45" y2="291.7" stroke="#444" stroke-width="0.7"/>
<line x1="479.45" y1="203.5" x2="479.45" y2="206.1" stroke="#444" stroke-width="0.7"/>
<text x="479.45" y="307.5" font-family="Liberation Serif, serif" font-size="8.6" text-anchor="middle" fill="#111" stroke="#111" stroke-width="0.18"><tspan font-size="11.5" dy="0.55">−</tspan><tspan dy="-0.55" font-size="1"> </tspan>5</text>
<line x1="535.20" y1="294.3" x2="535.20" y2="291.7" stroke="#444" stroke-width="0.7"/>
<line x1="535.20" y1="203.5" x2="535.20" y2="206.1" stroke="#444" stroke-width="0.7"/>
<text x="535.20" y="307.5" font-family="Liberation Serif, serif" font-size="8.6" text-anchor="middle" fill="#111" stroke="#111" stroke-width="0.18">0</text>
<line x1="590.95" y1="294.3" x2="590.95" y2="291.7" stroke="#444" stroke-width="0.7"/>
<line x1="590.95" y1="203.5" x2="590.95" y2="206.1" stroke="#444" stroke-width="0.7"/>
<text x="590.95" y="307.5" font-family="Liberation Serif, serif" font-size="8.6" text-anchor="middle" fill="#111" stroke="#111" stroke-width="0.18">5</text>
<line x1="646.70" y1="294.3" x2="646.70" y2="291.7" stroke="#444" stroke-width="0.7"/>
<line x1="646.70" y1="203.5" x2="646.70" y2="206.1" stroke="#444" stroke-width="0.7"/>
<text x="646.70" y="307.5" font-family="Liberation Serif, serif" font-size="8.6" text-anchor="middle" fill="#111" stroke="#111" stroke-width="0.18">10</text>
<line x1="393.9" y1="289.60" x2="396.5" y2="289.60" stroke="#444" stroke-width="0.7"/>
<line x1="676.45" y1="289.60" x2="673.85" y2="289.60" stroke="#444" stroke-width="0.7"/>
<text x="383.9" y="293.20" font-family="Liberation Serif, serif" font-size="8.6" text-anchor="end" fill="#111" stroke="#111" stroke-width="0.18"><tspan font-size="11.5" dy="0.55">−</tspan><tspan dy="-0.55" font-size="1"> </tspan>0.3</text>
<line x1="393.9" y1="276.05" x2="396.5" y2="276.05" stroke="#444" stroke-width="0.7"/>
<line x1="676.45" y1="276.05" x2="673.85" y2="276.05" stroke="#444" stroke-width="0.7"/>
<text x="383.9" y="279.65" font-family="Liberation Serif, serif" font-size="8.6" text-anchor="end" fill="#111" stroke="#111" stroke-width="0.18"><tspan font-size="11.5" dy="0.55">−</tspan><tspan dy="-0.55" font-size="1"> </tspan>0.2</text>
<line x1="393.9" y1="262.50" x2="396.5" y2="262.50" stroke="#444" stroke-width="0.7"/>
<line x1="676.45" y1="262.50" x2="673.85" y2="262.50" stroke="#444" stroke-width="0.7"/>
<text x="383.9" y="266.10" font-family="Liberation Serif, serif" font-size="8.6" text-anchor="end" fill="#111" stroke="#111" stroke-width="0.18"><tspan font-size="11.5" dy="0.55">−</tspan><tspan dy="-0.55" font-size="1"> </tspan>0.1</text>
<line x1="393.9" y1="248.95" x2="396.5" y2="248.95" stroke="#444" stroke-width="0.7"/>
<line x1="676.45" y1="248.95" x2="673.85" y2="248.95" stroke="#444" stroke-width="0.7"/>
<text x="383.9" y="252.55" font-family="Liberation Serif, serif" font-size="8.6" text-anchor="end" fill="#111" stroke="#111" stroke-width="0.18">0.0</text>
<line x1="393.9" y1="235.40" x2="396.5" y2="235.40" stroke="#444" stroke-width="0.7"/>
<line x1="676.45" y1="235.40" x2="673.85" y2="235.40" stroke="#444" stroke-width="0.7"/>
<text x="383.9" y="239.00" font-family="Liberation Serif, serif" font-size="8.6" text-anchor="end" fill="#111" stroke="#111" stroke-width="0.18">0.1</text>
<line x1="393.9" y1="221.85" x2="396.5" y2="221.85" stroke="#444" stroke-width="0.7"/>
<line x1="676.45" y1="221.85" x2="673.85" y2="221.85" stroke="#444" stroke-width="0.7"/>
<text x="383.9" y="225.45" font-family="Liberation Serif, serif" font-size="8.6" text-anchor="end" fill="#111" stroke="#111" stroke-width="0.18">0.2</text>
<line x1="393.9" y1="208.30" x2="396.5" y2="208.30" stroke="#444" stroke-width="0.7"/>
<line x1="676.45" y1="208.30" x2="673.85" y2="208.30" stroke="#444" stroke-width="0.7"/>
<text x="383.9" y="211.90" font-family="Liberation Serif, serif" font-size="8.6" text-anchor="end" fill="#111" stroke="#111" stroke-width="0.18">0.3</text>
<rect x="393.9" y="203.5" width="282.55000000000007" height="90.80000000000001" fill="none" stroke="#505050" stroke-width="1"/>
<text x="535.175" y="320.3" font-family="Liberation Serif, serif" font-size="11.6" text-anchor="middle" fill="#111" stroke="#111" stroke-width="0.22">Φ/Φ<tspan font-size="7.7" dy="2.2">0</tspan></text>
<text transform="translate(353.9,248.9) rotate(-90)" font-family="Liberation Serif, serif" font-size="12" text-anchor="middle" fill="#111" stroke="#111" stroke-width="0.22"><tspan font-style="italic" font-size="11.5">η</tspan></text>
<text x="342" y="214" font-family="Liberation Serif, serif" font-size="10" font-style="italic" fill="#111" letter-spacing="0.35">(e)</text>
<rect x="45.8" y="333.5" width="282.7" height="91.60000000000002" fill="#fff"/>
<line x1="75.70" y1="333.5" x2="75.70" y2="425.1" stroke="#e6e6e6" stroke-width="0.7"/>
<line x1="131.40" y1="333.5" x2="131.40" y2="425.1" stroke="#e6e6e6" stroke-width="0.7"/>
<line x1="187.10" y1="333.5" x2="187.10" y2="425.1" stroke="#e6e6e6" stroke-width="0.7"/>
<line x1="242.80" y1="333.5" x2="242.80" y2="425.1" stroke="#e6e6e6" stroke-width="0.7"/>
<line x1="298.50" y1="333.5" x2="298.50" y2="425.1" stroke="#e6e6e6" stroke-width="0.7"/>
<line x1="45.8" y1="417.61" x2="328.5" y2="417.61" stroke="#e6e6e6" stroke-width="0.7"/>
<line x1="45.8" y1="398.33" x2="328.5" y2="398.33" stroke="#e6e6e6" stroke-width="0.7"/>
<line x1="45.8" y1="379.05" x2="328.5" y2="379.05" stroke="#e6e6e6" stroke-width="0.7"/>
<line x1="45.8" y1="359.77" x2="328.5" y2="359.77" stroke="#e6e6e6" stroke-width="0.7"/>
<line x1="45.8" y1="340.49" x2="328.5" y2="340.49" stroke="#e6e6e6" stroke-width="0.7"/>
<path d="M53.40 370.01C53.49 370.32 53.98 372.65 54.25 373.18C54.51 373.71 55.65 374.76 56.04 375.29C56.44 375.82 57.79 377.98 58.16 378.46C58.53 378.95 59.48 379.21 59.74 380.11C60.01 381.02 60.54 386.62 60.80 387.52C61.07 388.41 62.02 389.05 62.39 389.10C62.76 389.15 64.08 388.52 64.50 388.04C64.93 387.57 66.30 384.61 66.62 384.34C66.93 384.08 67.46 385.61 67.67 385.40C67.89 385.19 68.52 382.81 68.73 382.23C68.94 381.65 69.47 379.80 69.79 379.59C70.11 379.37 71.51 379.27 71.90 380.11C72.30 380.96 73.33 387.83 73.70 388.04C74.07 388.26 75.31 383.08 75.60 382.23C75.90 381.38 76.13 379.90 76.66 379.59C77.19 379.27 80.05 378.85 80.89 379.06C81.74 379.27 84.43 381.38 85.12 381.70C85.81 382.02 87.34 381.65 87.76 382.23C88.19 382.81 89.00 386.46 89.35 387.52C89.70 388.57 90.94 393.12 91.25 392.80C91.57 392.49 92.29 385.40 92.52 384.34C92.75 383.29 93.35 382.12 93.58 382.23C93.81 382.33 94.58 385.51 94.85 385.40C95.11 385.30 95.98 381.75 96.22 381.17C96.47 380.59 96.38 379.80 97.28 379.59C98.18 379.37 103.57 378.79 105.21 379.06C106.85 379.32 112.72 381.75 113.67 382.23C114.62 382.71 114.46 384.03 114.72 383.82C114.99 383.60 115.96 380.24 116.31 380.11C116.66 379.99 117.83 382.13 118.23 382.53C118.63 382.93 119.97 383.91 120.34 384.12C120.71 384.33 121.61 384.81 121.93 384.65C122.25 384.49 123.15 383.22 123.52 382.53C123.89 381.85 125.26 378.46 125.63 377.78C126.00 377.09 126.90 375.82 127.22 375.66C127.53 375.50 128.43 376.24 128.80 376.19C129.17 376.14 130.55 375.34 130.92 375.13C131.29 374.92 132.19 373.81 132.50 374.08C132.82 374.34 133.77 376.82 134.09 377.78C134.41 378.73 135.41 382.80 135.67 383.59C135.94 384.38 136.47 385.68 136.73 385.71C137.00 385.73 138.05 384.93 138.32 383.82C138.58 382.71 139.16 376.00 139.38 374.60C139.59 373.21 140.22 370.27 140.43 369.85C140.64 369.42 141.23 369.69 141.49 370.38C141.75 371.06 142.81 376.19 143.08 376.72C143.34 377.25 143.87 375.87 144.13 375.66C144.40 375.45 145.35 374.50 145.72 374.60C146.09 374.71 147.31 376.45 147.83 376.72C148.36 376.98 150.37 377.14 151.01 377.25C151.64 377.35 153.54 377.51 154.18 377.78C154.81 378.04 156.82 379.42 157.35 379.89C157.88 380.37 159.04 382.06 159.46 382.53C159.89 383.01 161.24 384.33 161.58 384.65C161.92 384.97 162.53 385.92 162.85 385.71C163.16 385.49 164.35 383.06 164.75 382.53C165.15 382.01 166.34 380.77 166.87 380.42C167.39 380.07 169.40 379.22 170.04 379.05C170.67 378.87 171.61 378.66 173.21 378.62C174.81 378.58 184.07 378.54 186.00 378.62C187.94 378.71 191.07 379.39 192.57 379.47C194.08 379.54 199.66 379.45 201.03 379.36C202.41 379.28 205.53 378.89 206.32 378.62C207.11 378.36 208.56 377.17 208.96 376.72C209.36 376.26 210.07 374.52 210.34 374.08C210.60 373.63 211.32 372.23 211.60 372.28C211.89 372.33 212.77 373.95 213.19 374.60C213.61 375.26 215.25 378.31 215.83 378.83C216.42 379.36 218.37 379.73 219.01 379.89C219.64 380.05 221.54 380.37 222.18 380.42C222.81 380.47 224.82 380.26 225.35 380.42C225.88 380.58 227.09 381.90 227.46 382.01C227.83 382.11 228.79 381.79 229.05 381.48C229.31 381.16 229.90 378.89 230.11 378.83C230.32 378.78 230.95 380.16 231.16 380.95C231.38 381.74 231.96 386.00 232.22 386.76C232.49 387.53 233.54 388.73 233.81 388.57C234.07 388.41 234.65 386.15 234.87 385.18C235.08 384.20 235.71 379.84 235.92 378.83C236.13 377.83 236.77 375.45 236.98 375.13C237.19 374.82 237.77 375.08 238.04 375.66C238.30 376.24 239.31 380.10 239.62 380.95C239.94 381.79 240.89 383.96 241.21 384.12C241.53 384.28 242.48 382.75 242.80 382.53C243.11 382.32 244.01 382.11 244.38 382.01C244.75 381.90 246.07 381.58 246.50 381.48C246.92 381.37 248.19 381.42 248.61 380.95C249.03 380.47 250.35 377.46 250.72 376.72C251.09 375.98 252.07 373.00 252.31 373.55C252.56 374.10 252.93 380.73 253.17 382.23C253.42 383.73 254.46 387.73 254.76 388.57C255.05 389.42 255.87 391.11 256.13 390.69C256.40 390.26 257.17 385.68 257.40 384.34C257.63 383.00 258.23 378.31 258.46 377.29C258.69 376.27 259.46 374.12 259.73 374.12C259.99 374.12 260.81 376.76 261.10 377.29C261.40 377.82 262.32 378.98 262.69 379.41C263.06 379.83 264.38 381.24 264.80 381.52C265.23 381.80 266.49 382.23 266.92 382.23C267.34 382.23 268.66 381.96 269.03 381.52C269.40 381.08 270.25 377.64 270.62 377.82C270.99 378.00 272.31 382.85 272.73 383.29C273.16 383.73 274.37 382.83 274.85 382.23C275.32 381.63 277.04 378.16 277.49 377.29C277.94 376.43 279.08 373.59 279.39 373.59C279.71 373.59 280.43 377.45 280.66 377.29C280.89 377.13 281.49 373.06 281.72 372.01C281.95 370.95 282.72 366.72 282.99 366.72C283.25 366.72 284.07 371.11 284.36 372.01C284.66 372.90 285.47 375.28 285.95 375.71C286.42 376.13 288.54 376.13 289.12 376.23C289.70 376.34 291.23 376.45 291.76 376.76C292.29 377.08 293.93 379.04 294.41 379.41C294.88 379.78 296.15 380.68 296.52 380.46C296.89 380.25 297.68 378.24 298.11 377.29C298.53 376.34 300.33 370.95 300.75 370.95C301.17 370.95 302.07 376.34 302.34 377.29C302.60 378.24 303.18 380.46 303.39 380.46C303.61 380.46 304.24 378.14 304.45 377.29C304.66 376.45 305.30 372.43 305.51 372.01C305.72 371.58 306.35 372.85 306.57 373.06C306.78 373.27 307.36 374.28 307.62 374.12C307.89 373.96 308.89 371.95 309.21 371.48C309.53 371.00 310.48 369.63 310.80 369.36C311.11 369.10 312.12 368.62 312.38 368.83C312.65 369.05 313.23 370.42 313.44 371.48C313.65 372.53 314.31 377.91 314.50 379.41C314.69 380.90 315.08 385.96 315.34 386.46C315.61 386.95 316.82 384.71 317.14 384.34C317.46 383.97 318.25 382.55 318.51 382.76C318.78 382.97 319.55 385.88 319.78 386.46C320.01 387.04 320.73 388.36 320.84 388.57" fill="none" stroke="#009afa" stroke-width="0.65" stroke-linejoin="round" stroke-linecap="round"/>
<path d="M53.40 358.38C53.61 358.59 55.09 359.54 55.52 360.49C55.94 361.44 57.26 366.20 57.63 367.89C58.00 369.58 58.95 376.08 59.22 377.41C59.48 378.73 60.06 380.11 60.27 381.17C60.49 382.24 61.01 387.25 61.33 388.04C61.65 388.84 63.02 388.94 63.45 389.10C63.87 389.26 65.19 389.68 65.56 389.63C65.93 389.58 66.88 389.00 67.15 388.57C67.41 388.15 67.99 386.25 68.20 385.40C68.41 384.56 68.94 380.91 69.26 380.11C69.58 379.32 70.53 377.47 71.38 377.41C72.22 377.35 76.24 379.42 77.72 379.52C79.20 379.63 84.59 378.46 86.18 378.46C87.76 378.46 92.10 379.52 93.58 379.52C95.06 379.52 99.39 378.46 100.98 378.46C102.57 378.46 107.92 379.38 109.44 379.52C110.95 379.66 115.13 380.17 116.11 379.89C117.10 379.61 118.67 377.83 119.29 376.72C119.90 375.61 121.77 369.42 122.25 368.79C122.72 368.16 123.71 370.11 124.04 370.38C124.38 370.64 125.31 371.22 125.63 371.43C125.95 371.64 126.95 371.96 127.22 372.49C127.48 373.02 128.06 376.08 128.27 376.72C128.49 377.35 129.12 378.83 129.33 378.83C129.54 378.83 130.07 377.14 130.39 376.72C130.71 376.30 132.19 374.50 132.50 374.60C132.82 374.71 133.30 376.72 133.56 377.78C133.82 378.83 134.93 384.31 135.15 385.18C135.36 386.05 135.46 385.70 135.67 386.46C135.89 387.22 136.98 391.98 137.26 392.80C137.55 393.63 138.27 394.71 138.53 394.71C138.79 394.71 139.66 394.16 139.90 392.80C140.15 391.45 140.82 383.31 140.96 381.17C141.10 379.03 141.14 371.88 141.28 371.43C141.42 370.99 142.16 375.71 142.34 376.72C142.52 377.72 142.84 381.74 143.08 381.48C143.31 381.21 144.29 374.55 144.66 374.08C145.03 373.60 146.25 376.35 146.78 376.72C147.31 377.09 149.31 377.51 149.95 377.78C150.58 378.04 152.49 378.89 153.12 379.36C153.75 379.84 155.66 382.01 156.29 382.53C156.93 383.06 158.99 384.47 159.46 384.65C159.94 384.83 160.79 384.59 161.05 384.34C161.31 384.10 161.93 383.04 162.11 382.23C162.29 381.41 162.69 376.19 162.85 376.19C163.01 376.19 163.50 380.67 163.69 382.23C163.88 383.78 164.59 390.37 164.75 391.74C164.91 393.12 165.12 396.19 165.28 395.97C165.44 395.76 166.07 390.79 166.34 389.63C166.60 388.47 167.55 385.19 167.92 384.34C168.29 383.50 169.51 381.65 170.04 381.17C170.57 380.70 172.47 379.84 173.21 379.59C173.95 379.33 176.16 378.72 177.44 378.62C178.72 378.53 184.49 378.55 186.00 378.62C187.52 378.70 191.07 379.32 192.57 379.36C194.08 379.40 199.76 379.42 201.03 379.05C202.30 378.68 204.57 376.74 205.26 375.66C205.95 374.58 207.50 369.64 207.90 368.26C208.31 366.89 209.07 362.13 209.28 361.92C209.49 361.71 209.87 364.67 210.02 366.15C210.17 367.63 210.62 375.08 210.76 376.72C210.90 378.36 211.26 382.53 211.39 382.53C211.53 382.53 211.99 377.62 212.13 376.72C212.28 375.82 212.61 373.65 212.87 373.55C213.14 373.44 214.27 375.19 214.78 375.66C215.28 376.14 217.31 377.83 217.95 378.31C218.58 378.78 220.49 380.16 221.12 380.42C221.75 380.68 223.76 380.79 224.29 380.95C224.82 381.11 225.98 381.64 226.41 382.01C226.83 382.38 228.20 384.75 228.52 384.65C228.84 384.54 229.35 381.42 229.58 380.95C229.81 380.47 230.64 379.42 230.85 379.89C231.06 380.37 231.50 385.05 231.69 385.71C231.88 386.36 232.56 387.36 232.75 386.46C232.94 385.56 233.42 378.91 233.60 376.72C233.78 374.53 234.26 365.78 234.55 364.56C234.83 363.34 236.16 364.24 236.45 364.56C236.75 364.88 237.24 366.94 237.51 367.73C237.77 368.53 238.78 371.27 239.09 372.49C239.41 373.71 240.36 378.89 240.68 379.89C241.00 380.90 241.90 382.38 242.27 382.53C242.64 382.69 244.01 381.37 244.38 381.48C244.75 381.58 245.60 383.06 245.97 383.59C246.34 384.12 247.71 386.37 248.08 386.76C248.45 387.16 249.24 387.12 249.67 387.52C250.09 387.91 251.85 390.79 252.31 390.69C252.77 390.58 253.88 387.80 254.23 386.46C254.58 385.12 255.50 377.82 255.82 377.29C256.13 376.76 257.03 380.57 257.40 381.17C257.77 381.77 259.09 382.86 259.52 383.29C259.94 383.71 261.26 384.93 261.63 385.40C262.00 385.88 262.85 388.31 263.22 388.04C263.59 387.78 264.91 383.18 265.33 382.76C265.75 382.33 267.02 383.50 267.45 383.82C267.87 384.13 269.08 385.67 269.56 385.93C270.04 386.19 271.73 386.62 272.20 386.46C272.68 386.30 273.95 383.92 274.32 384.34C274.69 384.77 275.57 389.37 275.90 390.69C276.24 392.01 277.38 397.77 277.70 397.56C278.02 397.35 278.83 390.32 279.08 388.57C279.32 386.83 279.87 381.24 280.13 380.11C280.40 378.99 281.35 377.52 281.72 377.29C282.09 377.06 283.36 377.43 283.83 377.82C284.31 378.21 286.05 380.57 286.48 381.17C286.90 381.77 287.80 383.39 288.06 383.82C288.33 384.24 288.86 386.05 289.12 385.40C289.38 384.75 290.39 378.10 290.71 377.29C291.02 376.48 291.92 376.90 292.29 377.29C292.66 377.68 293.98 380.68 294.41 381.17C294.83 381.67 295.99 382.56 296.52 382.23C297.05 381.89 299.22 378.31 299.69 377.82C300.17 377.33 300.96 377.13 301.28 377.29C301.60 377.45 302.55 379.20 302.87 379.41C303.18 379.62 304.19 380.15 304.45 379.41C304.72 378.67 305.19 373.06 305.51 372.01C305.83 370.95 307.20 369.20 307.62 368.83C308.05 368.46 309.31 368.25 309.74 368.31C310.16 368.36 311.48 369.10 311.85 369.36C312.22 369.63 313.15 369.77 313.44 370.95C313.72 372.13 314.47 378.88 314.71 381.17C314.94 383.46 315.55 391.64 315.76 393.86C315.98 396.08 316.53 402.69 316.82 403.38C317.12 404.06 318.34 401.21 318.72 400.73C319.11 400.26 320.44 398.83 320.63 398.62" fill="none" stroke="#e36f47" stroke-width="0.65" stroke-linejoin="round" stroke-linecap="round"/>
<path d="M53.40 359.43C53.56 359.38 54.67 358.38 54.99 358.90C55.30 359.43 56.20 363.08 56.57 364.72C56.94 366.36 58.26 373.33 58.69 375.29C59.11 377.25 60.49 382.91 60.80 384.34C61.12 385.78 61.54 388.15 61.86 389.63C62.18 391.11 63.60 397.35 63.97 399.15C64.34 400.94 65.30 406.28 65.56 407.60C65.82 408.93 66.35 411.89 66.62 412.36C66.88 412.84 67.96 413.68 68.20 412.36C68.45 411.04 68.86 402.37 69.05 399.15C69.24 395.92 69.87 382.50 70.11 380.11C70.34 377.73 71.04 375.99 71.38 375.29C71.71 374.60 73.01 373.07 73.49 373.18C73.97 373.28 75.66 375.55 76.13 376.35C76.61 377.15 77.88 380.48 78.25 381.17C78.62 381.87 79.52 383.08 79.83 383.29C80.15 383.50 81.12 383.50 81.42 383.29C81.72 383.08 82.42 381.59 82.79 381.17C83.16 380.75 84.62 379.06 85.12 379.06C85.62 379.06 87.39 379.90 87.76 381.17C88.13 382.44 88.64 390.05 88.82 391.74C89.00 393.44 89.35 397.88 89.56 398.09C89.77 398.30 90.66 395.55 90.94 393.86C91.21 392.17 91.83 382.65 92.31 381.17C92.79 379.69 94.83 379.29 95.69 379.06C96.56 378.82 99.82 378.90 100.98 378.85C102.14 378.79 106.05 378.53 107.32 378.53C108.59 378.53 112.79 378.69 113.67 378.85C114.55 379.00 115.76 379.14 116.11 380.11C116.47 381.09 116.96 386.93 117.17 388.57C117.38 390.21 117.96 396.61 118.23 396.50C118.49 396.40 119.55 389.05 119.82 387.52C120.08 385.98 120.71 382.04 120.87 381.17C121.03 380.30 121.19 379.81 121.40 378.83C121.61 377.86 122.56 372.17 122.99 371.43C123.41 370.69 125.15 371.27 125.63 371.43C126.11 371.59 127.32 372.60 127.74 373.02C128.17 373.44 129.49 375.56 129.86 375.66C130.23 375.77 131.18 374.37 131.45 374.08C131.71 373.78 132.24 372.33 132.50 372.70C132.77 373.07 133.77 376.63 134.09 377.78C134.41 378.92 135.46 383.36 135.67 384.12C135.89 384.88 135.99 385.27 136.20 385.40C136.41 385.53 137.47 385.82 137.79 385.40C138.11 384.98 139.16 382.04 139.38 381.17C139.59 380.30 139.71 377.85 139.90 376.72C140.09 375.59 140.96 369.85 141.28 369.85C141.60 369.85 142.74 376.35 143.08 376.72C143.41 377.09 144.29 373.60 144.66 373.55C145.03 373.49 146.25 375.77 146.78 376.19C147.31 376.61 149.31 377.46 149.95 377.78C150.58 378.09 152.64 378.99 153.12 379.36C153.60 379.73 154.39 381.11 154.71 381.48C155.02 381.85 155.82 382.56 156.29 383.06C156.77 383.56 158.88 385.64 159.46 386.46C160.05 387.27 161.68 390.05 162.11 391.22C162.53 392.38 163.45 397.00 163.69 398.09C163.94 399.18 164.33 402.74 164.54 402.11C164.75 401.47 165.52 393.42 165.81 391.74C166.09 390.07 167.08 386.35 167.39 385.40C167.71 384.45 168.56 382.76 168.98 382.23C169.40 381.70 170.99 380.41 171.62 380.11C172.26 379.82 174.53 379.45 175.32 379.27C176.12 379.09 178.89 378.37 179.55 378.31C180.22 378.24 181.12 378.48 182.00 378.62C182.88 378.76 186.97 379.53 188.34 379.68C189.72 379.83 194.48 380.10 195.74 380.10C197.01 380.10 200.19 379.97 201.03 379.68C201.88 379.39 203.62 378.07 204.20 377.25C204.78 376.42 206.42 372.86 206.85 371.43C207.27 370.01 208.17 364.51 208.43 362.97C208.70 361.44 209.30 356.31 209.49 356.10C209.68 355.89 210.18 359.80 210.34 360.86C210.49 361.92 210.84 366.04 211.08 366.67C211.31 367.31 212.34 366.83 212.66 367.20C212.98 367.57 213.82 369.53 214.25 370.38C214.67 371.22 216.31 374.92 216.89 375.66C217.47 376.40 219.53 377.30 220.06 377.78C220.59 378.25 221.75 380.05 222.18 380.42C222.60 380.79 223.87 381.32 224.29 381.48C224.72 381.64 226.04 381.69 226.41 382.01C226.78 382.32 227.78 384.36 227.99 384.65C228.20 384.94 228.36 384.82 228.52 384.87C228.68 384.93 229.37 385.57 229.58 385.18C229.79 384.79 230.42 380.95 230.64 380.95C230.85 380.95 231.43 384.42 231.69 385.18C231.96 385.94 232.96 389.10 233.28 388.57C233.60 388.04 234.60 381.34 234.87 379.89C235.13 378.44 235.69 374.82 235.92 374.08C236.16 373.34 236.93 372.33 237.19 372.49C237.46 372.65 238.27 374.71 238.57 375.66C238.86 376.61 239.87 381.05 240.15 382.01C240.44 382.96 241.10 385.02 241.42 385.18C241.74 385.34 242.97 383.86 243.32 383.59C243.67 383.33 244.54 382.38 244.91 382.53C245.28 382.69 246.60 384.70 247.02 385.18C247.45 385.65 248.87 387.11 249.14 387.29C249.40 387.47 249.40 387.07 249.67 386.99C249.93 386.90 251.54 387.43 251.78 386.46C252.03 385.49 251.87 379.37 252.11 377.29C252.36 375.21 253.86 367.14 254.23 365.66C254.60 364.18 255.55 362.38 255.82 362.49C256.08 362.60 256.69 365.24 256.87 366.72C257.05 368.20 257.45 375.74 257.61 377.29C257.77 378.84 258.16 381.84 258.46 382.23C258.75 382.62 259.83 381.07 260.57 381.17C261.31 381.28 265.01 382.97 265.86 383.29C266.71 383.60 268.40 384.08 269.03 384.34C269.67 384.61 271.67 385.51 272.20 385.93C272.73 386.35 273.90 387.25 274.32 388.57C274.74 389.89 276.06 396.61 276.43 399.15C276.80 401.68 277.72 411.68 278.02 413.95C278.31 416.22 279.13 422.30 279.39 421.88C279.66 421.46 280.43 413.05 280.66 409.72C280.89 406.39 281.56 392.03 281.72 388.57C281.88 385.12 282.09 377.57 282.25 375.18C282.41 372.78 283.07 366.08 283.31 364.60C283.54 363.12 284.31 360.16 284.57 360.38C284.84 360.59 285.68 365.03 285.95 366.72C286.21 368.41 286.98 375.64 287.22 377.29C287.45 378.95 287.98 383.29 288.27 383.29C288.57 383.29 289.67 378.16 290.18 377.29C290.69 376.43 292.87 374.75 293.35 374.65C293.83 374.54 294.67 375.65 294.94 376.23C295.20 376.82 295.83 379.86 295.99 380.46C296.15 381.06 296.26 381.10 296.52 382.23C296.79 383.36 298.21 389.84 298.64 391.74C299.06 393.65 300.36 399.62 300.75 401.26C301.14 402.90 302.23 408.34 302.55 408.13C302.87 407.92 303.68 401.53 303.92 399.15C304.17 396.77 304.83 387.59 304.98 384.34C305.13 381.10 305.30 370.49 305.40 366.72C305.51 362.95 305.87 348.74 306.04 346.63C306.21 344.52 306.88 345.52 307.09 345.57C307.31 345.63 307.94 346.21 308.15 347.16C308.36 348.11 308.89 353.24 309.21 355.09C309.53 356.94 310.90 363.44 311.32 365.66C311.75 367.88 313.17 375.42 313.44 377.29C313.70 379.16 313.76 382.48 313.97 384.34C314.18 386.21 315.27 394.23 315.55 395.97C315.84 397.72 316.50 401.47 316.82 401.79C317.14 402.11 318.34 399.73 318.72 399.15C319.11 398.56 320.44 396.29 320.63 395.97" fill="none" stroke="#3ea44e" stroke-width="0.65" stroke-linejoin="round" stroke-linecap="round"/>
<path d="M53.40 364.19C53.61 364.45 55.09 365.94 55.52 366.83C55.94 367.73 57.21 371.43 57.63 373.18C58.05 374.93 59.43 382.49 59.74 384.34C60.06 386.20 60.54 390.26 60.80 391.74C61.07 393.23 62.02 398.04 62.39 399.15C62.76 400.26 64.13 402.32 64.50 402.85C64.87 403.38 65.77 404.91 66.09 404.43C66.41 403.96 67.41 400.10 67.67 398.09C67.94 396.08 68.55 386.25 68.73 384.34C68.91 382.44 69.21 379.86 69.47 379.06C69.74 378.26 70.55 376.83 71.38 376.35C72.20 375.87 76.24 374.13 77.72 374.23C79.20 374.34 84.59 377.30 86.18 377.41C87.76 377.51 92.10 375.07 93.58 375.29C95.06 375.51 100.08 378.58 100.98 379.59C101.88 380.60 102.25 384.29 102.57 385.40C102.88 386.51 103.78 390.48 104.15 390.69C104.52 390.90 105.84 388.36 106.27 387.52C106.69 386.67 108.01 383.02 108.38 382.23C108.75 381.44 109.60 379.80 109.97 379.59C110.34 379.37 111.71 378.90 112.08 380.11C112.45 381.33 113.38 389.68 113.67 391.74C113.95 393.81 114.67 400.41 114.94 400.73C115.20 401.05 116.09 396.56 116.31 394.92C116.53 393.28 116.93 385.61 117.17 384.34C117.42 383.08 118.44 381.70 118.76 382.23C119.08 382.76 120.06 388.68 120.34 389.63C120.63 390.58 121.30 392.06 121.61 391.74C121.93 391.43 123.22 387.62 123.52 386.46C123.81 385.30 124.41 381.30 124.57 380.11C124.73 378.93 124.91 375.35 125.10 374.60C125.29 373.86 126.16 372.38 126.48 372.70C126.79 373.02 127.96 376.90 128.27 377.78C128.59 378.65 129.38 381.69 129.65 381.48C129.91 381.27 130.68 376.03 130.92 375.66C131.15 375.29 131.71 376.93 131.97 377.78C132.24 378.62 133.24 383.04 133.56 384.12C133.88 385.20 134.83 387.97 135.15 388.57C135.46 389.18 136.44 390.21 136.73 390.16C137.03 390.11 137.86 388.63 138.11 388.04C138.35 387.46 138.98 385.05 139.16 384.34C139.34 383.63 139.72 382.35 139.90 380.95C140.08 379.55 140.78 371.91 140.96 370.38C141.14 368.84 141.54 365.09 141.70 365.62C141.86 366.15 142.30 374.13 142.55 375.66C142.79 377.19 143.82 380.63 144.13 380.95C144.45 381.27 145.35 379.05 145.72 378.83C146.09 378.62 147.41 378.99 147.83 378.83C148.26 378.68 149.47 377.51 149.95 377.25C150.42 376.98 152.12 376.03 152.59 376.19C153.07 376.35 154.34 378.25 154.71 378.83C155.08 379.42 155.92 381.37 156.29 382.01C156.66 382.64 157.98 384.42 158.41 385.18C158.83 385.94 160.15 388.66 160.52 389.63C160.89 390.60 161.87 394.02 162.11 394.92C162.34 395.82 162.69 398.72 162.85 398.62C163.01 398.51 163.56 395.52 163.69 393.86C163.83 392.20 164.12 384.25 164.22 382.01C164.33 379.76 164.54 372.28 164.75 371.43C164.96 370.59 165.91 373.23 166.34 373.55C166.76 373.86 168.29 374.45 168.98 374.60C169.67 374.76 172.15 374.92 173.21 375.13C174.27 375.34 178.27 376.35 179.55 376.72C180.83 377.09 185.12 378.46 186.00 378.83C186.88 379.20 187.69 380.10 188.34 380.42C189.00 380.74 191.62 381.74 192.57 382.01C193.52 382.27 196.80 382.87 197.86 383.06C198.92 383.25 202.19 383.75 203.15 383.91C204.10 384.07 206.83 384.42 207.38 384.65C207.93 384.88 208.43 385.97 208.64 386.23C208.86 386.50 209.36 387.94 209.49 387.30C209.62 386.67 209.83 381.48 209.91 379.89C210.00 378.30 210.19 373.44 210.34 371.43C210.48 369.42 211.21 360.54 211.39 359.80C211.57 359.06 211.90 363.08 212.13 364.03C212.37 364.98 213.35 368.37 213.72 369.32C214.09 370.27 215.36 372.81 215.83 373.55C216.31 374.29 218.00 376.03 218.48 376.72C218.95 377.41 220.17 379.94 220.59 380.42C221.01 380.90 222.34 381.48 222.71 381.48C223.08 381.48 223.98 380.63 224.29 380.42C224.61 380.21 225.56 379.26 225.88 379.36C226.20 379.47 227.20 381.48 227.46 381.48C227.73 381.48 228.26 379.79 228.52 379.36C228.79 378.94 229.84 377.09 230.11 377.25C230.37 377.41 230.98 379.94 231.16 380.95C231.34 381.95 231.77 386.16 231.90 387.29C232.04 388.42 232.38 392.38 232.54 392.27C232.70 392.17 233.31 387.47 233.49 386.23C233.67 385.00 234.15 381.16 234.34 379.89C234.53 378.62 235.18 374.66 235.39 373.55C235.61 372.44 236.19 369.16 236.45 368.79C236.72 368.42 237.72 369.74 238.04 369.85C238.35 369.95 239.36 369.37 239.62 369.85C239.89 370.32 240.42 373.60 240.68 374.60C240.94 375.61 242.00 379.20 242.27 379.89C242.53 380.58 243.06 381.79 243.32 381.48C243.59 381.16 244.65 376.67 244.91 376.72C245.17 376.77 245.72 381.11 245.97 382.01C246.21 382.90 247.02 386.02 247.34 385.71C247.66 385.39 248.80 380.26 249.14 378.83C249.48 377.41 250.38 372.65 250.72 371.43C251.07 370.22 252.28 366.62 252.63 366.67C252.98 366.73 253.96 371.26 254.23 372.01C254.50 372.75 255.02 374.65 255.29 374.12C255.55 373.59 256.56 368.09 256.87 366.72C257.19 365.34 258.17 361.27 258.46 360.38C258.74 359.48 259.46 357.10 259.73 357.73C259.99 358.37 260.81 364.87 261.10 366.72C261.40 368.57 262.37 375.07 262.69 376.23C263.00 377.40 263.96 378.35 264.27 378.35C264.59 378.35 265.49 376.98 265.86 376.23C266.23 375.49 267.57 371.74 267.97 370.95C268.38 370.16 269.51 368.09 269.88 368.31C270.25 368.52 271.34 372.06 271.67 373.06C272.01 374.07 272.89 377.72 273.26 378.35C273.63 378.98 274.95 379.30 275.38 379.41C275.80 379.51 277.07 379.23 277.49 379.41C277.91 379.58 279.29 380.26 279.60 381.17C279.92 382.09 280.45 387.09 280.66 388.57C280.87 390.05 281.51 396.08 281.72 395.97C281.93 395.87 282.35 388.52 282.78 387.52C283.20 386.51 285.42 385.88 285.95 385.93C286.48 385.98 287.64 388.04 288.06 388.04C288.49 388.04 289.60 386.19 290.18 385.93C290.76 385.67 293.35 385.77 293.88 385.40C294.41 385.03 295.09 382.65 295.46 382.23C295.83 381.81 297.16 380.85 297.58 381.17C298.00 381.49 299.27 385.08 299.69 385.40C300.12 385.72 301.44 384.87 301.81 384.34C302.18 383.82 303.18 380.82 303.39 380.11C303.61 379.41 303.71 378.63 303.92 377.29C304.13 375.95 305.19 368.83 305.51 366.72C305.83 364.60 306.85 357.41 307.09 356.15C307.34 354.88 307.68 354.03 307.94 354.03C308.20 354.03 309.40 355.62 309.74 356.15C310.08 356.67 311.01 358.26 311.32 359.32C311.64 360.38 312.65 365.24 312.91 366.72C313.17 368.20 313.79 372.78 313.97 374.12C314.15 375.46 314.53 378.46 314.71 380.11C314.89 381.77 315.55 388.94 315.76 390.69C315.98 392.43 316.53 397.08 316.82 397.56C317.12 398.04 318.34 395.87 318.72 395.45C319.11 395.02 320.44 393.54 320.63 393.33" fill="none" stroke="#c371d2" stroke-width="0.65" stroke-linejoin="round" stroke-linecap="round"/>
<line x1="75.70" y1="425.1" x2="75.70" y2="422.5" stroke="#444" stroke-width="0.7"/>
<line x1="75.70" y1="333.5" x2="75.70" y2="336.1" stroke="#444" stroke-width="0.7"/>
<text x="75.70" y="438.3" font-family="Liberation Serif, serif" font-size="8.6" text-anchor="middle" fill="#111" stroke="#111" stroke-width="0.18"><tspan font-size="11.5" dy="0.55">−</tspan><tspan dy="-0.55" font-size="1"> </tspan>5.0</text>
<line x1="131.40" y1="425.1" x2="131.40" y2="422.5" stroke="#444" stroke-width="0.7"/>
<line x1="131.40" y1="333.5" x2="131.40" y2="336.1" stroke="#444" stroke-width="0.7"/>
<text x="131.40" y="438.3" font-family="Liberation Serif, serif" font-size="8.6" text-anchor="middle" fill="#111" stroke="#111" stroke-width="0.18"><tspan font-size="11.5" dy="0.55">−</tspan><tspan dy="-0.55" font-size="1"> </tspan>2.5</text>
<line x1="187.10" y1="425.1" x2="187.10" y2="422.5" stroke="#444" stroke-width="0.7"/>
<line x1="187.10" y1="333.5" x2="187.10" y2="336.1" stroke="#444" stroke-width="0.7"/>
<text x="187.10" y="438.3" font-family="Liberation Serif, serif" font-size="8.6" text-anchor="middle" fill="#111" stroke="#111" stroke-width="0.18">0.0</text>
<line x1="242.80" y1="425.1" x2="242.80" y2="422.5" stroke="#444" stroke-width="0.7"/>
<line x1="242.80" y1="333.5" x2="242.80" y2="336.1" stroke="#444" stroke-width="0.7"/>
<text x="242.80" y="438.3" font-family="Liberation Serif, serif" font-size="8.6" text-anchor="middle" fill="#111" stroke="#111" stroke-width="0.18">2.5</text>
<line x1="298.50" y1="425.1" x2="298.50" y2="422.5" stroke="#444" stroke-width="0.7"/>
<line x1="298.50" y1="333.5" x2="298.50" y2="336.1" stroke="#444" stroke-width="0.7"/>
<text x="298.50" y="438.3" font-family="Liberation Serif, serif" font-size="8.6" text-anchor="middle" fill="#111" stroke="#111" stroke-width="0.18">5.0</text>
<line x1="45.8" y1="417.61" x2="48.4" y2="417.61" stroke="#444" stroke-width="0.7"/>
<line x1="328.5" y1="417.61" x2="325.9" y2="417.61" stroke="#444" stroke-width="0.7"/>
<text x="35.8" y="421.21" font-family="Liberation Serif, serif" font-size="8.6" text-anchor="end" fill="#111" stroke="#111" stroke-width="0.18"><tspan font-size="11.5" dy="0.55">−</tspan><tspan dy="-0.55" font-size="1"> </tspan>0.4</text>
<line x1="45.8" y1="398.33" x2="48.4" y2="398.33" stroke="#444" stroke-width="0.7"/>
<line x1="328.5" y1="398.33" x2="325.9" y2="398.33" stroke="#444" stroke-width="0.7"/>
<text x="35.8" y="401.93" font-family="Liberation Serif, serif" font-size="8.6" text-anchor="end" fill="#111" stroke="#111" stroke-width="0.18"><tspan font-size="11.5" dy="0.55">−</tspan><tspan dy="-0.55" font-size="1"> </tspan>0.2</text>
<line x1="45.8" y1="379.05" x2="48.4" y2="379.05" stroke="#444" stroke-width="0.7"/>
<line x1="328.5" y1="379.05" x2="325.9" y2="379.05" stroke="#444" stroke-width="0.7"/>
<text x="35.8" y="382.65" font-family="Liberation Serif, serif" font-size="8.6" text-anchor="end" fill="#111" stroke="#111" stroke-width="0.18">0.0</text>
<line x1="45.8" y1="359.77" x2="48.4" y2="359.77" stroke="#444" stroke-width="0.7"/>
<line x1="328.5" y1="359.77" x2="325.9" y2="359.77" stroke="#444" stroke-width="0.7"/>
<text x="35.8" y="363.37" font-family="Liberation Serif, serif" font-size="8.6" text-anchor="end" fill="#111" stroke="#111" stroke-width="0.18">0.2</text>
<line x1="45.8" y1="340.49" x2="48.4" y2="340.49" stroke="#444" stroke-width="0.7"/>
<line x1="328.5" y1="340.49" x2="325.9" y2="340.49" stroke="#444" stroke-width="0.7"/>
<text x="35.8" y="344.09" font-family="Liberation Serif, serif" font-size="8.6" text-anchor="end" fill="#111" stroke="#111" stroke-width="0.18">0.4</text>
<rect x="45.8" y="333.5" width="282.7" height="91.60000000000002" fill="none" stroke="#505050" stroke-width="1"/>
<text x="187.15" y="451" font-family="Liberation Serif, serif" font-size="11.6" text-anchor="middle" fill="#111" stroke="#111" stroke-width="0.22">Φ/Φ<tspan font-size="7.7" dy="2.2">0</tspan></text>
<text transform="translate(5.9,379.3) rotate(-90)" font-family="Liberation Serif, serif" font-size="12" text-anchor="middle" fill="#111" stroke="#111" stroke-width="0.22"><tspan font-style="italic" font-size="11.5">η</tspan></text>
<rect x="55.3" y="336.5" width="67.2" height="42.2" fill="#fff" stroke="#333" stroke-width="0.7"/>
<line x1="58.2" y1="345.2" x2="77.5" y2="345.2" stroke="#009afa" stroke-width="0.8" opacity="0.9"/>
<text y="346.70" font-family="Liberation Serif, serif" font-size="7.9" fill="#111" stroke="#111" stroke-width="0.12"><tspan x="79.6" font-style="italic" font-size="8.6">V</tspan><tspan x="86.6" dy="3" font-size="7.6" font-style="italic">s</tspan><tspan x="91.4" dy="-2.5" font-size="9.2">=</tspan><tspan x="99.8" dy="-0.5">0.02</tspan><tspan x="116.3" font-style="italic">t</tspan></text>
<line x1="58.2" y1="353.57" x2="77.5" y2="353.57" stroke="#e36f47" stroke-width="0.8" opacity="0.9"/>
<text y="355.07" font-family="Liberation Serif, serif" font-size="7.9" fill="#111" stroke="#111" stroke-width="0.12"><tspan x="79.6" font-style="italic" font-size="8.6">V</tspan><tspan x="86.6" dy="3" font-size="7.6" font-style="italic">s</tspan><tspan x="91.4" dy="-2.5" font-size="9.2">=</tspan><tspan x="99.8" dy="-0.5">0.04</tspan><tspan x="116.3" font-style="italic">t</tspan></text>
<line x1="58.2" y1="361.94" x2="77.5" y2="361.94" stroke="#3ea44e" stroke-width="0.8" opacity="0.9"/>
<text y="363.44" font-family="Liberation Serif, serif" font-size="7.9" fill="#111" stroke="#111" stroke-width="0.12"><tspan x="79.6" font-style="italic" font-size="8.6">V</tspan><tspan x="86.6" dy="3" font-size="7.6" font-style="italic">s</tspan><tspan x="91.4" dy="-2.5" font-size="9.2">=</tspan><tspan x="99.8" dy="-0.5">0.06</tspan><tspan x="116.3" font-style="italic">t</tspan></text>
<line x1="58.2" y1="370.31" x2="77.5" y2="370.31" stroke="#c371d2" stroke-width="0.8" opacity="0.9"/>
<text y="371.81" font-family="Liberation Serif, serif" font-size="7.9" fill="#111" stroke="#111" stroke-width="0.12"><tspan x="79.6" font-style="italic" font-size="8.6">V</tspan><tspan x="86.6" dy="3" font-size="7.6" font-style="italic">s</tspan><tspan x="91.4" dy="-2.5" font-size="9.2">=</tspan><tspan x="99.8" dy="-0.5">0.08</tspan><tspan x="116.3" font-style="italic">t</tspan></text>
<text x="0" y="346.5" font-family="Liberation Serif, serif" font-size="10" font-style="italic" fill="#111" letter-spacing="0.35">(c)</text>
<text x="342" y="346" font-family="Liberation Serif, serif" font-size="10" font-style="italic" fill="#111">(<tspan dx="0.8">f</tspan><tspan dx="1.6">)</tspan></text>
<rect x="385.1" y="366.6" width="120.2" height="16.5" fill="#0f6fba"/>
<rect x="385.1" y="383.1" width="120.2" height="15.1" fill="#e9e9e9"/>
<rect x="385.1" y="398.2" width="120.2" height="16.4" fill="#0f6fba"/>
<text x="446.8" y="358.8" font-family="Liberation Sans, sans-serif" font-size="9" text-anchor="middle" fill="#3a3a3a">two-terminal JJ</text>
<text x="445.2" y="377.4" font-family="Liberation Serif, serif" font-size="8.2" font-style="italic" text-anchor="middle" fill="#fff">φ<tspan dx="0.6">/</tspan><tspan font-style="normal">2</tspan></text>
<text x="444.6" y="407.3" font-family="Liberation Serif, serif" font-size="8.2" font-style="italic" text-anchor="middle" fill="#fff">−φ<tspan dx="0.6">/</tspan><tspan font-style="normal">2</tspan></text>
<text x="372.4" y="393.6" font-family="Liberation Serif, serif" font-size="8.4" font-style="italic" text-anchor="middle" fill="#444">L</text>
<line x1="379.6" y1="385" x2="379.6" y2="396.5" stroke="#444" stroke-width="0.6"/>
<path d="M379.6 383.6 l-1.5 2.8 h3 z M379.6 397.8 l-1.5 -2.8 h3 z" fill="#444"/>
<line x1="387.5" y1="417.3" x2="502.5" y2="417.3" stroke="#444" stroke-width="0.6"/>
<path d="M386 417.3 l2.8 -1.5 v3 z M504.2 417.3 l-2.8 -1.5 v3 z" fill="#444"/>
<text x="445.4" y="425.3" font-family="Liberation Serif, serif" font-size="7.8" font-style="italic" text-anchor="middle" fill="#444">W</text>
<text x="514.7" y="383.2" font-family="Liberation Serif, serif" font-size="8" font-style="italic" text-anchor="middle" fill="#333">B</text>
<circle cx="514.5" cy="391.2" r="4.3" fill="#fff" stroke="#0f6fba" stroke-width="1.5"/>
<circle cx="514.5" cy="391.2" r="1.7" fill="#0f6fba"/>
<text x="607.4" y="367.6" font-family="Liberation Sans, sans-serif" font-size="8.75" text-anchor="middle" fill="#3a3a3a">Scattering region</text>
<defs><pattern id="lat" x="545.8" y="380.2" width="4.1" height="5.9" patternUnits="userSpaceOnUse"><rect width="4.1" height="5.9" fill="#d3dde6"/><rect x="1.3" width="1.5" height="5.9" fill="#a3b9cd"/><rect y="2.3" width="4.1" height="1.4" fill="#8aa6c0" opacity="0.55"/></pattern><pattern id="latr" x="545.8" y="378.6" width="4.1" height="5" patternUnits="userSpaceOnUse"><rect width="4.1" height="5" fill="#ffcdd1"/><rect x="1.2" width="1.7" height="5" fill="#ffa3aa"/></pattern></defs>
<rect x="540.3" y="376.4" width="141.6" height="33.5" fill="#fff" stroke="#777" stroke-width="0.6"/>
<rect x="545.8" y="378.6" width="131.4" height="29.7" fill="url(#lat)"/>
<rect x="545.8" y="378.4" width="131.4" height="1.8" fill="url(#latr)"/>
<rect x="545.8" y="405.9" width="131.4" height="2.4" fill="url(#latr)" opacity="0.75"/>
<line x1="546.7" y1="409.9" x2="546.7" y2="411.2" stroke="#555" stroke-width="0.5"/>
<text x="546.7" y="415.3" font-family="Liberation Sans, sans-serif" font-size="4.6" text-anchor="middle" fill="#444">0</text>
<line x1="572.7" y1="409.9" x2="572.7" y2="411.2" stroke="#555" stroke-width="0.5"/>
<text x="572.7" y="415.3" font-family="Liberation Sans, sans-serif" font-size="4.6" text-anchor="middle" fill="#444">20</text>
<line x1="598.8" y1="409.9" x2="598.8" y2="411.2" stroke="#555" stroke-width="0.5"/>
<text x="598.8" y="415.3" font-family="Liberation Sans, sans-serif" font-size="4.6" text-anchor="middle" fill="#444">40</text>
<line x1="624.9" y1="409.9" x2="624.9" y2="411.2" stroke="#555" stroke-width="0.5"/>
<text x="624.9" y="415.3" font-family="Liberation Sans, sans-serif" font-size="4.6" text-anchor="middle" fill="#444">60</text>
<line x1="651" y1="409.9" x2="651" y2="411.2" stroke="#555" stroke-width="0.5"/>
<text x="651" y="415.3" font-family="Liberation Sans, sans-serif" font-size="4.6" text-anchor="middle" fill="#444">80</text>
<line x1="677" y1="409.9" x2="677" y2="411.2" stroke="#555" stroke-width="0.5"/>
<text x="677" y="415.3" font-family="Liberation Sans, sans-serif" font-size="4.6" text-anchor="middle" fill="#444">100</text>
<line x1="540.3" y1="379.3" x2="539" y2="379.3" stroke="#555" stroke-width="0.5"/>
<text x="538" y="381.0" font-family="Liberation Sans, sans-serif" font-size="4.6" text-anchor="end" fill="#444">20</text>
<line x1="540.3" y1="392.6" x2="539" y2="392.6" stroke="#555" stroke-width="0.5"/>
<text x="538" y="394.3" font-family="Liberation Sans, sans-serif" font-size="4.6" text-anchor="end" fill="#444">10</text>
<line x1="540.3" y1="405.8" x2="539" y2="405.8" stroke="#555" stroke-width="0.5"/>
<text x="538" y="407.5" font-family="Liberation Sans, sans-serif" font-size="4.6" text-anchor="end" fill="#444">0</text>
</svg>
</body></html>
